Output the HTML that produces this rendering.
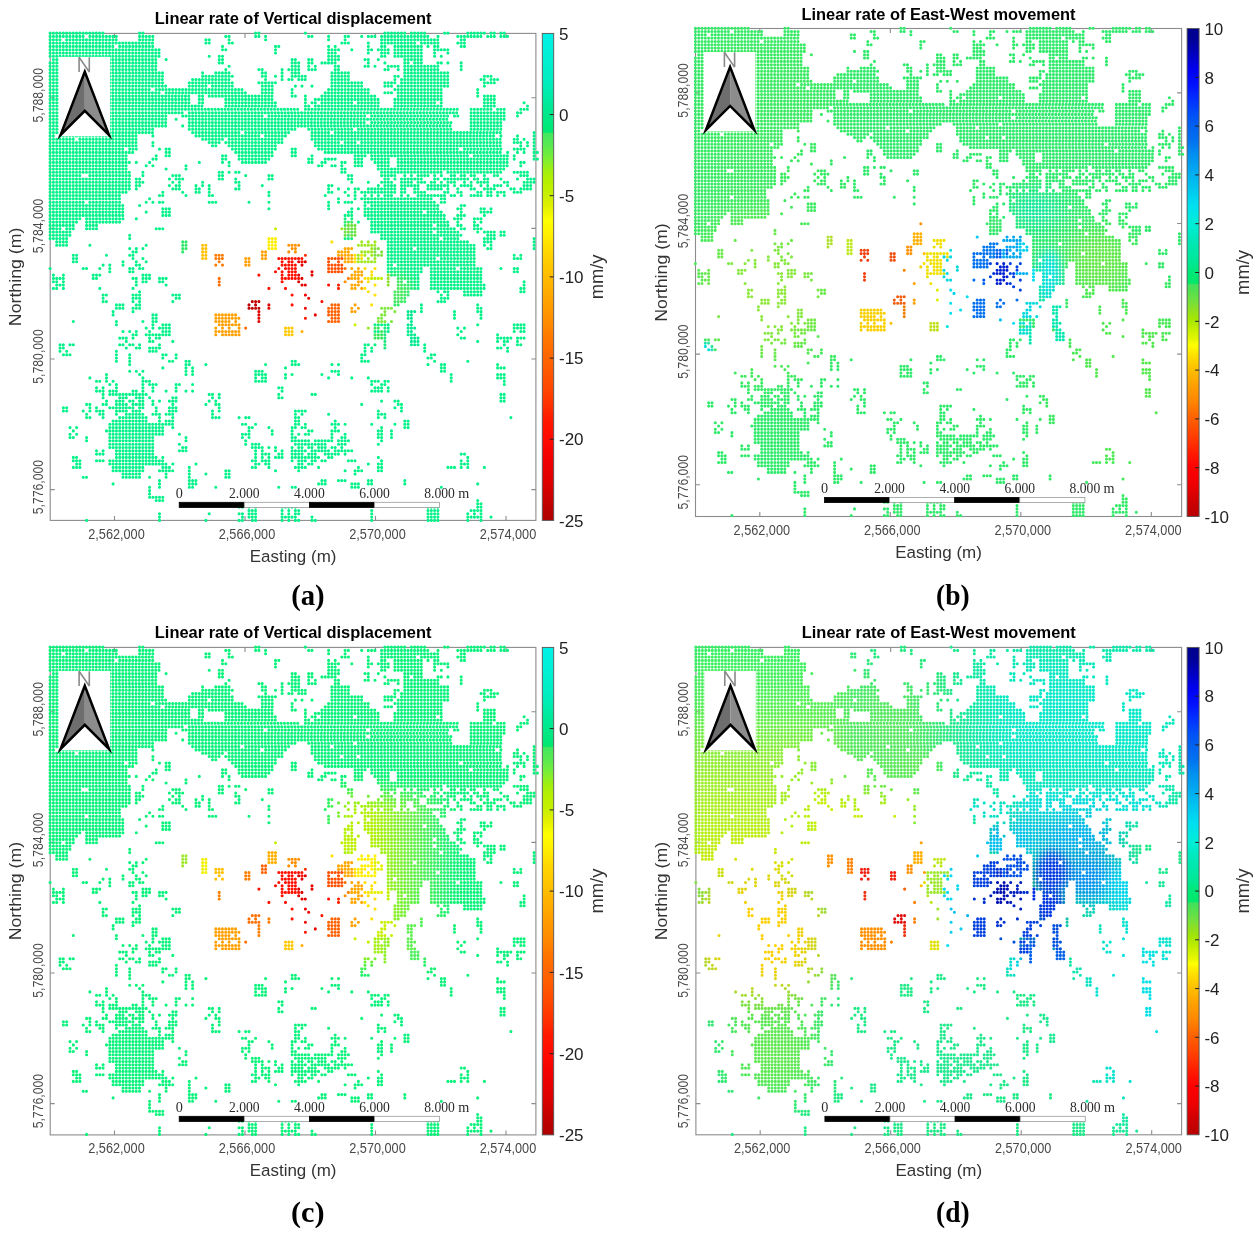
<!DOCTYPE html><html><head><meta charset="utf-8"><style>html,body{margin:0;padding:0;background:#fff;width:1258px;height:1235px;overflow:hidden}svg{display:block;will-change:transform}</style></head><body>
<svg width="1258" height="1235" viewBox="0 0 1258 1235">
<defs>
<linearGradient id="cbA" x1="0" y1="0" x2="0" y2="1"><stop offset="0" stop-color="#00f2e8"/><stop offset="0.097" stop-color="#00eec0"/><stop offset="0.166" stop-color="#00e88a"/><stop offset="0.203" stop-color="#00e870"/><stop offset="0.205" stop-color="#40e860"/><stop offset="0.23" stop-color="#58ea50"/><stop offset="0.255" stop-color="#78ee38"/><stop offset="0.281" stop-color="#a0f010"/><stop offset="0.306" stop-color="#b8f000"/><stop offset="0.333" stop-color="#c8f000"/><stop offset="0.353" stop-color="#e0f000"/><stop offset="0.384" stop-color="#ffff00"/><stop offset="0.415" stop-color="#ffee00"/><stop offset="0.446" stop-color="#ffd800"/><stop offset="0.476" stop-color="#ffc800"/><stop offset="0.507" stop-color="#ffb800"/><stop offset="0.538" stop-color="#ffa800"/><stop offset="0.569" stop-color="#ff9800"/><stop offset="0.6" stop-color="#ff8800"/><stop offset="0.631" stop-color="#ff7400"/><stop offset="0.668" stop-color="#ff6400"/><stop offset="0.703" stop-color="#ff5400"/><stop offset="0.734" stop-color="#ff4400"/><stop offset="0.765" stop-color="#ff3000"/><stop offset="0.795" stop-color="#ff1800"/><stop offset="0.836" stop-color="#ff0800"/><stop offset="0.877" stop-color="#f00000"/><stop offset="0.918" stop-color="#e00000"/><stop offset="0.949" stop-color="#cc0000"/><stop offset="0.98" stop-color="#b80000"/><stop offset="1" stop-color="#b00000"/></linearGradient>
<linearGradient id="cbB" x1="0" y1="0" x2="0" y2="1"><stop offset="0" stop-color="#00008c"/><stop offset="0.023" stop-color="#000098"/><stop offset="0.053" stop-color="#0000c0"/><stop offset="0.084" stop-color="#0000f0"/><stop offset="0.115" stop-color="#0010ff"/><stop offset="0.146" stop-color="#0030ff"/><stop offset="0.177" stop-color="#0050f8"/><stop offset="0.199" stop-color="#0060f0"/><stop offset="0.228" stop-color="#0070f0"/><stop offset="0.259" stop-color="#0090f0"/><stop offset="0.29" stop-color="#00a8f0"/><stop offset="0.331" stop-color="#00c8f0"/><stop offset="0.362" stop-color="#00e0f0"/><stop offset="0.399" stop-color="#00eed8"/><stop offset="0.434" stop-color="#00e8b8"/><stop offset="0.475" stop-color="#00e898"/><stop offset="0.499" stop-color="#00e878"/><stop offset="0.522" stop-color="#00e868"/><stop offset="0.524" stop-color="#40e060"/><stop offset="0.536" stop-color="#50e050"/><stop offset="0.557" stop-color="#70e040"/><stop offset="0.577" stop-color="#90e020"/><stop offset="0.598" stop-color="#a8e800"/><stop offset="0.618" stop-color="#c8f000"/><stop offset="0.639" stop-color="#e8f800"/><stop offset="0.649" stop-color="#ffff00"/><stop offset="0.67" stop-color="#ffe000"/><stop offset="0.69" stop-color="#ffc800"/><stop offset="0.731" stop-color="#ffa000"/><stop offset="0.762" stop-color="#ff8800"/><stop offset="0.799" stop-color="#ff6000"/><stop offset="0.834" stop-color="#ff4000"/><stop offset="0.865" stop-color="#ff2000"/><stop offset="0.899" stop-color="#ff0000"/><stop offset="0.936" stop-color="#ee0000"/><stop offset="0.967" stop-color="#d00000"/><stop offset="1" stop-color="#b80000"/></linearGradient>
<filter id="bl1" x="-50%" y="-50%" width="200%" height="200%"><feGaussianBlur stdDeviation="1"/></filter>
<filter id="bl2" x="-50%" y="-50%" width="200%" height="200%"><feGaussianBlur stdDeviation="2"/></filter>
<filter id="bl3" x="-50%" y="-50%" width="200%" height="200%"><feGaussianBlur stdDeviation="3"/></filter>
<filter id="bl4" x="-50%" y="-50%" width="200%" height="200%"><feGaussianBlur stdDeviation="4"/></filter>
<filter id="bl5" x="-50%" y="-50%" width="200%" height="200%"><feGaussianBlur stdDeviation="5"/></filter>
<filter id="bl6" x="-50%" y="-50%" width="200%" height="200%"><feGaussianBlur stdDeviation="6"/></filter>
<filter id="bl7" x="-50%" y="-50%" width="200%" height="200%"><feGaussianBlur stdDeviation="7"/></filter>
<filter id="bl8" x="-50%" y="-50%" width="200%" height="200%"><feGaussianBlur stdDeviation="8"/></filter>
<filter id="bl9" x="-50%" y="-50%" width="200%" height="200%"><feGaussianBlur stdDeviation="9"/></filter>
<filter id="bl10" x="-50%" y="-50%" width="200%" height="200%"><feGaussianBlur stdDeviation="10"/></filter>
<filter id="bl11" x="-50%" y="-50%" width="200%" height="200%"><feGaussianBlur stdDeviation="11"/></filter>
<filter id="bl12" x="-50%" y="-50%" width="200%" height="200%"><feGaussianBlur stdDeviation="12"/></filter>
<filter id="bl13" x="-50%" y="-50%" width="200%" height="200%"><feGaussianBlur stdDeviation="13"/></filter>
<filter id="bl14" x="-50%" y="-50%" width="200%" height="200%"><feGaussianBlur stdDeviation="14"/></filter>
<filter id="bl15" x="-50%" y="-50%" width="200%" height="200%"><feGaussianBlur stdDeviation="15"/></filter>
<filter id="bl16" x="-50%" y="-50%" width="200%" height="200%"><feGaussianBlur stdDeviation="16"/></filter>
<filter id="bl17" x="-50%" y="-50%" width="200%" height="200%"><feGaussianBlur stdDeviation="17"/></filter>
<filter id="bl18" x="-50%" y="-50%" width="200%" height="200%"><feGaussianBlur stdDeviation="18"/></filter>
<filter id="bl19" x="-50%" y="-50%" width="200%" height="200%"><feGaussianBlur stdDeviation="19"/></filter>
<filter id="bl20" x="-50%" y="-50%" width="200%" height="200%"><feGaussianBlur stdDeviation="20"/></filter>
<filter id="bl21" x="-50%" y="-50%" width="200%" height="200%"><feGaussianBlur stdDeviation="21"/></filter>
<filter id="bl22" x="-50%" y="-50%" width="200%" height="200%"><feGaussianBlur stdDeviation="22"/></filter>
<filter id="bl23" x="-50%" y="-50%" width="200%" height="200%"><feGaussianBlur stdDeviation="23"/></filter>
<filter id="bl24" x="-50%" y="-50%" width="200%" height="200%"><feGaussianBlur stdDeviation="24"/></filter>
<filter id="bl25" x="-50%" y="-50%" width="200%" height="200%"><feGaussianBlur stdDeviation="25"/></filter>
<filter id="bl26" x="-50%" y="-50%" width="200%" height="200%"><feGaussianBlur stdDeviation="26"/></filter>
<filter id="bl27" x="-50%" y="-50%" width="200%" height="200%"><feGaussianBlur stdDeviation="27"/></filter>
<filter id="bl28" x="-50%" y="-50%" width="200%" height="200%"><feGaussianBlur stdDeviation="28"/></filter>
<filter id="bl29" x="-50%" y="-50%" width="200%" height="200%"><feGaussianBlur stdDeviation="29"/></filter>
<filter id="bl30" x="-50%" y="-50%" width="200%" height="200%"><feGaussianBlur stdDeviation="30"/></filter>
<g id="pts"><path d="M-1.4 -0.3H54.2M88.1 -0.3H94M204.1 -0.3H210M253.9 -0.3H256.5M333.4 -0.3H355.9M359.9 -0.3H375.8M393.1 -0.3H399M416.3 -0.3H435.5M439.5 -0.3H445.4M449.4 -0.3H455.4M-1.4 3H34.3M38.4 3H67.5M88.1 3H104M174.3 3H180.2M204.1 3H210M214.1 3H216.7M257.2 3H263.1M277.1 3H279.7M293.6 3H299.6M310.2 3H312.8M316.8 3H326.1M330.1 3H379.1M386.5 3H389.1M406.3 3H432.1M436.2 3H445.4M449.4 3H458.7M-1.4 6.3H11.1M15.2 6.3H67.5M88.1 6.3H104M154.4 6.3H160.3M177.6 6.3H180.2M214.1 6.3H216.7M277.1 6.3H279.7M293.6 6.3H296.2M330.1 6.3H389.1M409.7 6.3H415.6M-1.4 9.6H104M154.4 9.6H160.3M177.6 9.6H183.5M290.3 9.6H299.6M316.8 9.6H319.4M330.1 9.6H365.8M369.9 9.6H389.1M406.3 9.6H415.6M-1.4 13H64.2M68.2 13H104M171 13H173.6M224 13H229.9M277.1 13H279.7M283.7 13H286.3M316.8 13H319.4M330.1 13H336M343.4 13H372.5M376.5 13H379.1M383.1 13H389.1M409.7 13H415.6M-1.4 16.3H110.6M171 16.3H176.9M224 16.3H226.6M277.1 16.3H289.6M300.3 16.3H302.9M316.8 16.3H322.8M326.8 16.3H339.3M343.4 16.3H372.5M383.1 16.3H399M-1.4 19.6H110.6M224 19.6H226.6M277.1 19.6H286.3M316.8 19.6H319.4M330.1 19.6H339.3M343.4 19.6H372.5M383.1 19.6H385.7M396.4 19.6H399M-1.4 22.9H110.6M157.7 22.9H160.3M167.7 22.9H173.6M277.1 22.9H289.6M330.1 22.9H336M343.4 22.9H372.5M383.1 22.9H385.7M389.8 22.9H392.4M1.9 26.2H107.3M114.6 26.2H117.2M167.7 26.2H173.6M240.6 26.2H246.5M257.2 26.2H263.1M277.1 26.2H289.6M313.5 26.2H319.4M326.8 26.2H329.4M353.3 26.2H372.5M-1.4 29.5H21.1M25.1 29.5H107.3M167.7 29.5H173.6M240.6 29.5H249.8M257.2 29.5H263.1M270.4 29.5H286.3M316.8 29.5H319.4M333.4 29.5H336M353.3 29.5H359.2M363.2 29.5H372.5M386.5 29.5H392.4M396.4 29.5H399M409.7 29.5H412.3M-1.4 32.9H107.3M177.6 32.9H180.2M240.6 32.9H249.8M257.2 32.9H259.8M263.8 32.9H266.4M283.7 32.9H289.6M313.5 32.9H319.4M323.5 32.9H326.1M336.7 32.9H349.3M353.3 32.9H389.1M409.7 32.9H412.3M-1.4 36.2H107.3M174.3 36.2H176.9M207.4 36.2H213.4M230.6 36.2H233.2M237.3 36.2H249.8M257.2 36.2H266.4M283.7 36.2H289.6M333.4 36.2H339.3M346.7 36.2H349.3M353.3 36.2H389.1M409.7 36.2H412.3M-1.4 39.5H41M45 39.5H113.9M151.1 39.5H153.7M164.3 39.5H180.2M210.8 39.5H216.7M230.6 39.5H233.2M240.6 39.5H249.8M280.4 39.5H299.6M353.3 39.5H399M-1.4 42.8H44.3M48.3 42.8H113.9M151.1 42.8H183.5M210.8 42.8H216.7M224 42.8H226.6M230.6 42.8H233.2M240.6 42.8H256.5M280.4 42.8H299.6M343.4 42.8H349.3M353.3 42.8H399M432.9 42.8H442.1M-1.4 46.1H113.9M141.1 46.1H180.2M214.1 46.1H216.7M230.6 46.1H233.2M237.3 46.1H243.2M247.2 46.1H256.5M280.4 46.1H299.6M343.4 46.1H346M350 46.1H399M429.5 46.1H435.5M439.5 46.1H448.7M-1.4 49.4H44.3M48.3 49.4H113.9M137.8 49.4H183.5M207.4 49.4H226.6M280.4 49.4H312.8M333.4 49.4H346M350 49.4H399M432.9 49.4H445.4M-1.4 52.7H117.2M137.8 52.7H157M161 52.7H183.5M210.8 52.7H223.3M243.9 52.7H246.5M250.5 52.7H253.1M260.5 52.7H263.1M280.4 52.7H312.8M333.4 52.7H342.6M346.7 52.7H399M432.9 52.7H435.5M-1.4 56.1H100.7M104.7 56.1H193.5M210.8 56.1H223.3M240.6 56.1H243.2M277.1 56.1H319.4M343.4 56.1H392.4M426.2 56.1H428.8M-1.4 59.4H110.6M114.6 59.4H196.8M210.8 59.4H223.3M240.6 59.4H243.2M273.7 59.4H319.4M333.4 59.4H342.6M346.7 59.4H392.4M426.2 59.4H428.8M-1.4 62.7H140.4M147.8 62.7H153.7M157.7 62.7H223.3M240.6 62.7H246.5M253.9 62.7H256.5M270.4 62.7H326.1M346.7 62.7H392.4M426.2 62.7H428.8M432.9 62.7H445.4M-1.4 66H14.5M18.5 66H140.4M147.8 66H153.7M174.3 66H223.3M253.9 66H256.5M263.8 66H329.4M343.4 66H392.4M432.9 66H445.4M-1.4 69.3H41M45 69.3H140.4M147.8 69.3H153.7M174.3 69.3H226.6M253.9 69.3H256.5M260.5 69.3H266.4M270.4 69.3H302.9M306.9 69.3H329.4M343.4 69.3H385.7M389.8 69.3H392.4M432.9 69.3H445.4M472.6 69.3H475.2M-1.4 72.6H153.7M174.3 72.6H226.6M253.9 72.6H259.8M263.8 72.6H329.4M343.4 72.6H392.4M432.9 72.6H445.4M476 72.6H478.6M-1.4 75.9H249.8M253.9 75.9H408.9M419.6 75.9H442.1M446.1 75.9H455.4M469.3 75.9H478.6M-1.4 79.3H133.8M137.8 79.3H408.9M419.6 79.3H455.4M466 79.3H471.9M-1.4 82.6H41M45 82.6H117.2M131.2 82.6H213.4M217.4 82.6H316.1M320.2 82.6H399M403 82.6H408.9M419.6 82.6H455.4M466 82.6H468.6M-1.4 85.9H117.2M124.6 85.9H127.2M137.8 85.9H399M419.6 85.9H455.4M-1.4 89.2H117.2M137.8 89.2H316.1M320.2 89.2H402.3M419.6 89.2H452M-1.4 92.5H117.2M131.2 92.5H133.8M137.8 92.5H402.3M419.6 92.5H452M-1.4 95.8H34.3M38.4 95.8H104M137.8 95.8H246.5M257.2 95.8H302.9M306.9 95.8H402.3M419.6 95.8H452M-1.4 99.2H104M141.1 99.2H190.2M194.2 99.2H239.9M260.5 99.2H279.7M283.7 99.2H452M482.6 99.2H485.2M-1.4 102.5H4.5M8.5 102.5H87.4M101.4 102.5H104M144.5 102.5H210M214.1 102.5H236.6M260.5 102.5H445.4M449.4 102.5H452M466 102.5H468.6M482.6 102.5H485.2M-1.4 105.8H24.4M28.4 105.8H87.4M151.1 105.8H173.6M177.6 105.8H233.2M260.5 105.8H452M462.7 105.8H468.6M472.6 105.8H475.2M482.6 105.8H485.2M-1.4 109.1H87.4M101.4 109.1H104M157.7 109.1H170.3M174.3 109.1H233.2M263.8 109.1H289.6M293.6 109.1H306.2M310.2 109.1H452M462.7 109.1H471.9M476 109.1H478.6M482.6 109.1H485.2M-1.4 112.4H87.4M101.4 112.4H104M161 112.4H167M177.6 112.4H226.6M263.8 112.4H452M469.3 112.4H471.9M476 112.4H478.6M482.6 112.4H485.2M-1.4 115.7H74.1M78.2 115.7H87.4M108 115.7H110.6M114.6 115.7H120.5M180.9 115.7H226.6M240.6 115.7H246.5M267.1 115.7H408.9M413 115.7H452M462.7 115.7H475.2M482.6 115.7H485.2M-1.4 119H84.1M114.6 119H120.5M184.2 119H223.3M240.6 119H246.5M273.7 119H452M456.1 119H458.7M466 119H468.6M472.6 119H475.2M482.6 119H488.5M-1.4 122.4H77.4M104.7 122.4H107.3M114.6 122.4H120.5M171 122.4H176.9M187.6 122.4H223.3M240.6 122.4H246.5M260.5 122.4H263.1M303.6 122.4H316.1M320.2 122.4H418.9M422.9 122.4H458.7M462.7 122.4H465.3M482.6 122.4H485.2M-1.4 125.7H77.4M101.4 125.7H107.3M171 125.7H176.9M187.6 125.7H220M257.2 125.7H263.1M273.7 125.7H286.3M303.6 125.7H312.8M320.2 125.7H339.3M346.7 125.7H458.7M462.7 125.7H465.3M482.6 125.7H488.5M-1.4 129H80.8M84.8 129H87.4M98.1 129H100.7M147.8 129H150.4M171 129H173.6M177.6 129H180.2M190.9 129H216.7M257.2 129H263.1M270.4 129H276.3M290.3 129H296.2M303.6 129H312.8M323.5 129H339.3M346.7 129H458.7M469.3 129H475.2M-1.4 132.3H77.4M94.7 132.3H97.3M101.4 132.3H104M134.5 132.3H137.1M177.6 132.3H180.2M267.1 132.3H273M280.4 132.3H286.3M290.3 132.3H292.9M303.6 132.3H312.8M326.8 132.3H339.3M346.7 132.3H458.7M469.3 132.3H471.9M-1.4 135.6H77.4M114.6 135.6H117.2M134.5 135.6H137.1M290.3 135.6H296.2M326.8 135.6H455.4M-1.4 138.9H80.8M91.4 138.9H94M167.7 138.9H173.6M177.6 138.9H180.2M184.2 138.9H190.2M290.3 138.9H296.2M330.1 138.9H392.4M396.4 138.9H452M462.7 138.9H478.6M-1.4 142.2H31M38.4 142.2H80.8M91.4 142.2H94M121.3 142.2H130.5M167.7 142.2H173.6M194.2 142.2H196.8M217.4 142.2H223.3M296.9 142.2H302.9M330.1 142.2H346M353.3 142.2H355.9M359.9 142.2H362.5M366.6 142.2H379.1M383.1 142.2H385.7M389.8 142.2H392.4M399.7 142.2H405.6M409.7 142.2H415.6M419.6 142.2H425.5M432.9 142.2H435.5M442.8 142.2H448.7M469.3 142.2H478.6M-1.4 145.6H80.8M84.8 145.6H90.7M117.9 145.6H120.5M124.6 145.6H133.8M167.7 145.6H173.6M184.2 145.6H186.8M217.4 145.6H223.3M296.9 145.6H302.9M333.4 145.6H339.3M343.4 145.6H346M350 145.6H372.5M383.1 145.6H389.1M393.1 145.6H418.9M422.9 145.6H428.8M432.9 145.6H438.8M449.4 145.6H452M466 145.6H468.6M476 145.6H485.2M-1.4 148.9H80.8M84.8 148.9H94M121.3 148.9H123.9M127.9 148.9H130.5M151.1 148.9H153.7M184.2 148.9H190.2M300.3 148.9H302.9M316.8 148.9H319.4M330.1 148.9H342.6M350 148.9H362.5M366.6 148.9H375.8M379.8 148.9H385.7M389.8 148.9H392.4M396.4 148.9H405.6M413 148.9H415.6M419.6 148.9H422.2M426.2 148.9H438.8M452.8 148.9H458.7M472.6 148.9H485.2M-1.4 152.2H80.8M84.8 152.2H90.7M117.9 152.2H120.5M124.6 152.2H130.5M144.5 152.2H147.1M151.1 152.2H153.7M157.7 152.2H160.3M187.6 152.2H190.2M210.8 152.2H213.4M277.1 152.2H283M326.8 152.2H329.4M333.4 152.2H346M350 152.2H369.2M376.5 152.2H399M403 152.2H405.6M409.7 152.2H422.2M429.5 152.2H432.1M436.2 152.2H438.8M442.8 152.2H452M456.1 152.2H458.7M472.6 152.2H481.9M-1.4 155.5H80.8M84.8 155.5H87.4M121.3 155.5H130.5M144.5 155.5H150.4M157.7 155.5H160.3M184.2 155.5H190.2M277.1 155.5H279.7M287 155.5H289.6M296.9 155.5H299.6M303.6 155.5H309.5M316.8 155.5H346M350 155.5H355.9M363.2 155.5H369.2M376.5 155.5H392.4M396.4 155.5H399M406.3 155.5H408.9M419.6 155.5H425.5M432.9 155.5H445.4M459.4 155.5H465.3M469.3 155.5H481.9M-1.4 158.8H77.4M111.3 158.8H113.9M131.2 158.8H133.8M144.5 158.8H150.4M157.7 158.8H160.3M217.4 158.8H220M277.1 158.8H283M293.6 158.8H296.2M303.6 158.8H306.2M310.2 158.8H346M350 158.8H355.9M363.2 158.8H375.8M393.1 158.8H399M406.3 158.8H412.3M426.2 158.8H432.1M436.2 158.8H442.1M446.1 158.8H455.4M462.7 158.8H471.9M-1.4 162.1H70.8M108 162.1H113.9M134.5 162.1H137.1M157.7 162.1H163.6M217.4 162.1H220M273.7 162.1H276.3M296.9 162.1H299.6M303.6 162.1H306.2M313.5 162.1H316.1M320.2 162.1H322.8M326.8 162.1H329.4M333.4 162.1H342.6M350 162.1H352.6M356.6 162.1H359.2M366.6 162.1H395.7M399.7 162.1H405.6M409.7 162.1H412.3M419.6 162.1H432.1M436.2 162.1H442.1M446.1 162.1H448.7M452.8 162.1H455.4M-1.4 165.4H70.8M98.1 165.4H100.7M287 165.4H289.6M303.6 165.4H306.2M310.2 165.4H382.4M389.8 165.4H395.7M-1.4 168.8H34.3M38.4 168.8H70.8M94.7 168.8H97.3M101.4 168.8H104M108 168.8H113.9M157.7 168.8H167M197.5 168.8H200.1M217.4 168.8H220M277.1 168.8H279.7M287 168.8H289.6M293.6 168.8H302.9M313.5 168.8H385.7M389.8 168.8H395.7M-1.4 172.1H74.1M88.1 172.1H90.7M277.1 172.1H279.7M313.5 172.1H316.1M320.2 172.1H389.1M409.7 172.1H415.6M-1.4 175.4H74.1M111.3 175.4H120.5M217.4 175.4H220M277.1 175.4H279.7M300.3 175.4H302.9M306.9 175.4H309.5M313.5 175.4H389.1M406.3 175.4H412.3M429.5 175.4H435.5M439.5 175.4H442.1M-1.4 178.7H74.1M94.7 178.7H97.3M111.3 178.7H120.5M296.9 178.7H302.9M313.5 178.7H372.5M376.5 178.7H392.4M409.7 178.7H412.3M429.5 178.7H442.1M-1.4 182H74.1M111.3 182H120.5M293.6 182H302.9M313.5 182H395.7M406.3 182H415.6M432.9 182H435.5M-1.4 185.3H31M35.1 185.3H74.1M84.8 185.3H87.4M293.6 185.3H296.2M300.3 185.3H302.9M316.8 185.3H395.7M403 185.3H412.3M422.9 185.3H432.1M-1.4 188.7H27.7M35.1 188.7H70.8M293.6 188.7H302.9M306.9 188.7H309.5M320.2 188.7H399M406.3 188.7H408.9M422.9 188.7H425.5M429.5 188.7H432.1M-1.4 192H24.4M35.1 192H47.6M293.6 192H306.2M320.2 192H382.4M386.5 192H399M406.3 192H412.3M422.9 192H428.8M-1.4 195.3H11.1M15.2 195.3H24.4M35.1 195.3H47.6M104.7 195.3H113.9M224 195.3H226.6M290.3 195.3H306.2M320.2 195.3H405.6M409.7 195.3H415.6M422.9 195.3H432.1M-1.4 198.6H21.1M293.6 198.6H306.2M320.2 198.6H382.4M386.5 198.6H408.9M426.2 198.6H428.8M432.9 198.6H445.4M449.4 198.6H455.4M-1.4 201.9H21.1M78.2 201.9H80.8M293.6 201.9H306.2M330.1 201.9H412.3M436.2 201.9H445.4M449.4 201.9H455.4M-1.4 205.2H17.8M78.2 205.2H80.8M217.4 205.2H226.6M293.6 205.2H302.9M330.1 205.2H389.1M393.1 205.2H408.9M432.9 205.2H445.4M482.6 205.2H485.2M5.2 208.5H17.8M131.2 208.5H137.1M217.4 208.5H226.6M280.4 208.5H283M310.2 208.5H312.8M316.8 208.5H319.4M323.5 208.5H326.1M336.7 208.5H418.9M432.9 208.5H442.1M482.6 208.5H485.2M5.2 211.9H17.8M38.4 211.9H41M94.7 211.9H97.3M131.2 211.9H137.1M151.1 211.9H157M217.4 211.9H226.6M237.3 211.9H249.8M306.9 211.9H326.1M336.7 211.9H425.5M432.9 211.9H435.5M439.5 211.9H442.1M482.6 211.9H485.2M78.2 215.2H80.8M84.8 215.2H87.4M91.4 215.2H94M131.2 215.2H137.1M151.1 215.2H157M217.4 215.2H226.6M240.6 215.2H246.5M293.6 215.2H302.9M320.2 215.2H329.4M336.7 215.2H362.5M366.6 215.2H425.5M436.2 215.2H442.1M482.6 215.2H485.2M81.5 218.5H87.4M131.2 218.5H133.8M151.1 218.5H157M210.8 218.5H216.7M237.3 218.5H239.9M243.9 218.5H246.5M287 218.5H299.6M310.2 218.5H326.1M330.1 218.5H332.7M336.7 218.5H425.5M21.8 221.8H27.7M55 221.8H57.6M78.2 221.8H84.1M151.1 221.8H157M164.3 221.8H173.6M210.8 221.8H216.7M253.9 221.8H256.5M287 221.8H316.1M320.2 221.8H332.7M336.7 221.8H425.5M462.7 221.8H465.3M469.3 221.8H471.9M21.8 225.1H27.7M81.5 225.1H84.1M91.4 225.1H94M151.1 225.1H157M164.3 225.1H173.6M194.2 225.1H200.1M210.8 225.1H216.7M227.3 225.1H253.1M277.1 225.1H312.8M316.8 225.1H319.4M323.5 225.1H326.1M336.7 225.1H385.7M389.8 225.1H425.5M462.7 225.1H471.9M21.8 228.4H27.7M71.5 228.4H74.1M84.8 228.4H87.4M94.7 228.4H97.3M167.7 228.4H170.3M194.2 228.4H200.1M230.6 228.4H233.2M237.3 228.4H243.2M247.2 228.4H256.5M277.1 228.4H279.7M287 228.4H289.6M293.6 228.4H326.1M336.7 228.4H425.5M51.6 231.7H54.2M58.3 231.7H60.9M71.5 231.7H74.1M84.8 231.7H90.7M164.3 231.7H167M171 231.7H173.6M194.2 231.7H200.1M230.6 231.7H246.5M250.5 231.7H253.1M277.1 231.7H292.9M336.7 231.7H342.6M346.7 231.7H425.5M-1.4 235.1H1.2M31.7 235.1H37.7M48.3 235.1H50.9M58.3 235.1H60.9M78.2 235.1H84.1M88.1 235.1H94M227.3 235.1H229.9M234 235.1H246.5M277.1 235.1H296.2M300.3 235.1H302.9M306.9 235.1H309.5M313.5 235.1H316.1M323.5 235.1H326.1M336.7 235.1H372.5M379.8 235.1H405.6M409.7 235.1H432.1M449.4 235.1H452M462.7 235.1H468.6M58.3 238.4H60.9M78.2 238.4H84.1M224 238.4H226.6M230.6 238.4H233.2M237.3 238.4H246.5M260.5 238.4H263.1M277.1 238.4H292.9M303.6 238.4H312.8M320.2 238.4H322.8M336.7 238.4H372.5M379.8 238.4H432.1M462.7 238.4H468.6M1.9 241.7H4.5M11.9 241.7H14.5M41.7 241.7H50.9M91.4 241.7H100.7M207.4 241.7H210M230.6 241.7H233.2M237.3 241.7H249.8M260.5 241.7H263.1M300.3 241.7H312.8M320.2 241.7H322.8M336.7 241.7H369.2M379.8 241.7H432.1M1.9 245H14.5M41.7 245H47.6M81.5 245H87.4M91.4 245H100.7M108 245H117.2M167.7 245H170.3M230.6 245H253.1M296.9 245H309.5M313.5 245H332.7M336.7 245H339.3M346.7 245H369.2M379.8 245H432.1M1.9 248.3H7.8M11.9 248.3H14.5M84.8 248.3H87.4M91.4 248.3H97.3M108 248.3H113.9M167.7 248.3H170.3M230.6 248.3H233.2M247.2 248.3H249.8M293.6 248.3H296.2M306.9 248.3H312.8M316.8 248.3H319.4M336.7 248.3H339.3M346.7 248.3H352.6M356.6 248.3H369.2M379.8 248.3H432.1M472.6 248.3H475.2M5.2 251.6H14.5M84.8 251.6H87.4M114.6 251.6H117.2M167.7 251.6H170.3M250.5 251.6H256.5M277.1 251.6H279.7M287 251.6H289.6M300.3 251.6H309.5M323.5 251.6H326.1M336.7 251.6H339.3M346.7 251.6H369.2M379.8 251.6H435.5M472.6 251.6H475.2M1.9 255H7.8M11.9 255H14.5M48.3 255H50.9M81.5 255H84.1M217.4 255H220M234 255H236.6M287 255H289.6M300.3 255H306.2M310.2 255H316.1M346.7 255H369.2M379.8 255H435.5M469.3 255H475.2M88.1 258.3H90.7M316.8 258.3H319.4M343.4 258.3H359.2M386.5 258.3H389.1M393.1 258.3H399M413 258.3H432.1M469.3 258.3H475.2M51.6 261.6H57.6M81.5 261.6H90.7M121.3 261.6H130.5M240.6 261.6H243.2M253.9 261.6H256.5M323.5 261.6H326.1M343.4 261.6H359.2M389.8 261.6H392.4M396.4 261.6H399M413 261.6H432.1M51.6 264.9H54.2M81.5 264.9H90.7M124.6 264.9H130.5M257.2 264.9H259.8M343.4 264.9H355.9M389.8 264.9H399M51.6 268.2H57.6M81.5 268.2H84.1M88.1 268.2H90.7M121.3 268.2H123.9M200.8 268.2H210M270.4 268.2H273M343.4 268.2H355.9M386.5 268.2H395.7M64.9 271.5H74.1M84.8 271.5H90.7M197.5 271.5H200.1M204.1 271.5H206.7M217.4 271.5H220M240.6 271.5H243.2M280.4 271.5H289.6M303.6 271.5H306.2M320.2 271.5H322.8M343.4 271.5H349.3M369.9 271.5H372.5M426.2 271.5H428.8M64.9 274.8H74.1M81.5 274.8H90.7M197.5 274.8H210M217.4 274.8H220M253.9 274.8H256.5M277.1 274.8H289.6M300.3 274.8H302.9M306.9 274.8H309.5M330.1 274.8H342.6M369.9 274.8H372.5M426.2 274.8H432.1M61.6 278.2H64.2M81.5 278.2H84.1M207.4 278.2H210M277.1 278.2H289.6M300.3 278.2H306.2M333.4 278.2H336M343.4 278.2H346M356.6 278.2H365.8M369.9 278.2H372.5M403 278.2H405.6M426.2 278.2H432.1M61.6 281.5H64.2M101.4 281.5H107.3M164.3 281.5H186.8M207.4 281.5H210M263.8 281.5H266.4M277.1 281.5H289.6M330.1 281.5H336M356.6 281.5H362.5M403 281.5H405.6M429.5 281.5H432.1M101.4 284.8H107.3M164.3 284.8H190.2M207.4 284.8H210M253.9 284.8H256.5M280.4 284.8H289.6M326.8 284.8H332.7M356.6 284.8H362.5M403 284.8H405.6M429.5 284.8H432.1M21.8 288.1H24.4M64.9 288.1H67.5M91.4 288.1H94M101.4 288.1H107.3M164.3 288.1H180.2M184.2 288.1H186.8M207.4 288.1H210M277.1 288.1H289.6M326.8 288.1H336M340 288.1H342.6M359.9 288.1H362.5M64.9 291.4H67.5M101.4 291.4H104M111.3 291.4H120.5M167.7 291.4H190.2M303.6 291.4H306.2M323.5 291.4H339.3M356.6 291.4H362.5M426.2 291.4H428.8M462.7 291.4H475.2M94.7 294.7H97.3M101.4 294.7H104M108 294.7H120.5M164.3 294.7H167M171 294.7H173.6M177.6 294.7H180.2M187.6 294.7H190.2M194.2 294.7H196.8M234 294.7H243.2M316.8 294.7H319.4M323.5 294.7H329.4M333.4 294.7H339.3M356.6 294.7H365.8M406.3 294.7H408.9M413 294.7H415.6M462.7 294.7H475.2M71.5 298.1H74.1M78.2 298.1H80.8M84.8 298.1H87.4M98.1 298.1H100.7M111.3 298.1H120.5M164.3 298.1H190.2M234 298.1H243.2M250.5 298.1H253.1M323.5 298.1H339.3M356.6 298.1H362.5M409.7 298.1H412.3M462.7 298.1H465.3M469.3 298.1H475.2M81.5 301.4H87.4M94.7 301.4H120.5M164.3 301.4H167M171 301.4H190.2M234 301.4H243.2M323.5 301.4H336M356.6 301.4H365.8M406.3 301.4H408.9M446.1 301.4H448.7M68.2 304.7H77.4M81.5 304.7H84.1M98.1 304.7H100.7M104.7 304.7H110.6M323.5 304.7H336M359.9 304.7H369.2M409.7 304.7H415.6M446.1 304.7H462M466 304.7H475.2M74.8 308H77.4M98.1 308H104M121.3 308H123.9M333.4 308H336M359.9 308H369.2M426.2 308H428.8M446.1 308H448.7M452.8 308H458.7M466 308H468.6M8.5 311.3H14.5M18.5 311.3H24.4M68.2 311.3H74.1M78.2 311.3H84.1M88.1 311.3H90.7M108 311.3H110.6M313.5 311.3H319.4M323.5 311.3H326.1M333.4 311.3H336M359.9 311.3H369.2M373.2 311.3H375.8M452.8 311.3H455.4M466 311.3H471.9M8.5 314.6H14.5M74.8 314.6H77.4M84.8 314.6H90.7M98.1 314.6H110.6M313.5 314.6H316.1M320.2 314.6H322.8M333.4 314.6H336M373.2 314.6H375.8M446.1 314.6H452M456.1 314.6H458.7M8.5 317.9H11.1M15.2 317.9H17.8M64.9 317.9H67.5M98.1 317.9H107.3M313.5 317.9H316.1M320.2 317.9H322.8M373.2 317.9H375.8M456.1 317.9H458.7M11.9 321.3H21.1M64.9 321.3H67.5M78.2 321.3H80.8M111.3 321.3H117.2M124.6 321.3H127.2M310.2 321.3H316.1M379.8 321.3H385.7M64.9 324.6H67.5M78.2 324.6H80.8M111.3 324.6H113.9M124.6 324.6H127.2M310.2 324.6H312.8M376.5 324.6H382.4M64.9 327.9H67.5M78.2 327.9H80.8M117.9 327.9H123.9M134.5 327.9H140.4M240.6 327.9H246.5M310.2 327.9H319.4M383.1 327.9H385.7M416.3 327.9H418.9M78.2 331.2H80.8M134.5 331.2H140.4M154.4 331.2H157M214.1 331.2H216.7M240.6 331.2H249.8M280.4 331.2H283M287 331.2H289.6M376.5 331.2H379.1M389.8 331.2H395.7M446.1 331.2H448.7M111.3 334.5H113.9M134.5 334.5H137.1M141.1 334.5H143.7M234 334.5H236.6M389.8 334.5H395.7M446.1 334.5H455.4M78.2 337.8H80.8M84.8 337.8H87.4M91.4 337.8H94M134.5 337.8H137.1M141.1 337.8H143.7M204.1 337.8H213.4M280.4 337.8H289.6M389.8 337.8H395.7M55 341.1H57.6M88.1 341.1H90.7M134.5 341.1H137.1M141.1 341.1H143.7M204.1 341.1H216.7M234 341.1H236.6M240.6 341.1H243.2M270.4 341.1H273M287 341.1H289.6M399.7 341.1H402.3M446.1 341.1H455.4M38.4 344.5H41M55 344.5H57.6M91.4 344.5H94M204.1 344.5H206.7M210.8 344.5H216.7M234 344.5H236.6M277.1 344.5H279.7M300.3 344.5H302.9M316.8 344.5H319.4M399.7 344.5H402.3M446.1 344.5H455.4M45 347.8H50.9M55 347.8H57.6M61.6 347.8H64.2M91.4 347.8H100.7M204.1 347.8H216.7M320.2 347.8H329.4M333.4 347.8H339.3M399.7 347.8H402.3M452.8 347.8H455.4M58.3 351.1H60.9M64.9 351.1H67.5M91.4 351.1H94M98.1 351.1H107.3M124.6 351.1H130.5M141.1 351.1H143.7M320.2 351.1H322.8M330.1 351.1H336M452.8 351.1H455.4M45 354.4H47.6M51.6 354.4H54.2M64.9 354.4H67.5M91.4 354.4H94M101.4 354.4H104M124.6 354.4H127.2M227.3 354.4H233.2M323.5 354.4H332.7M336.7 354.4H339.3M45 357.7H54.2M58.3 357.7H67.5M81.5 357.7H87.4M91.4 357.7H94M101.4 357.7H104M114.6 357.7H117.2M124.6 357.7H127.2M134.5 357.7H137.1M141.1 357.7H143.7M230.6 357.7H233.2M320.2 357.7H332.7M336.7 357.7H339.3M51.6 361H54.2M58.3 361H97.3M157.7 361H163.6M167.7 361H170.3M227.3 361H229.9M260.5 361H266.4M449.4 361H455.4M51.6 364.3H54.2M68.2 364.3H77.4M84.8 364.3H94M98.1 364.3H100.7M121.3 364.3H127.2M161 364.3H163.6M167.7 364.3H170.3M227.3 364.3H233.2M449.4 364.3H455.4M55 367.7H57.6M64.9 367.7H74.1M78.2 367.7H84.1M88.1 367.7H94M101.4 367.7H104M108 367.7H110.6M117.9 367.7H127.2M157.7 367.7H160.3M164.3 367.7H167M330.1 367.7H332.7M343.4 367.7H349.3M449.4 367.7H455.4M35.1 371H41M51.6 371H57.6M64.9 371H77.4M81.5 371H94M101.4 371H104M121.3 371H123.9M154.4 371H157M164.3 371H170.3M310.2 371H312.8M346.7 371H352.6M11.9 374.3H17.8M38.4 374.3H41M45 374.3H47.6M58.3 374.3H84.1M88.1 374.3H94M104.7 374.3H107.3M117.9 374.3H127.2M167.7 374.3H170.3M343.4 374.3H346M350 374.3H352.6M11.9 377.6H17.8M31.7 377.6H34.3M38.4 377.6H41M45 377.6H54.2M64.9 377.6H77.4M81.5 377.6H90.7M104.7 377.6H107.3M117.9 377.6H127.2M161 377.6H163.6M167.7 377.6H170.3M243.9 377.6H256.5M326.8 377.6H329.4M350 377.6H352.6M35.1 380.9H37.7M48.3 380.9H54.2M64.9 380.9H67.5M74.8 380.9H94M101.4 380.9H110.6M114.6 380.9H123.9M161 380.9H163.6M243.9 380.9H246.5M250.5 380.9H253.1M277.1 380.9H279.7M326.8 380.9H336M35.1 384.2H41M51.6 384.2H54.2M68.2 384.2H97.3M108 384.2H110.6M121.3 384.2H123.9M161 384.2H170.3M187.6 384.2H190.2M194.2 384.2H200.1M243.9 384.2H249.8M326.8 384.2H329.4M333.4 384.2H336M459.4 384.2H462M61.6 387.6H97.3M108 387.6H110.6M114.6 387.6H123.9M243.9 387.6H249.8M283.7 387.6H286.3M353.3 387.6H359.2M58.3 390.9H123.9M190.9 390.9H196.8M204.1 390.9H206.7M243.9 390.9H249.8M253.9 390.9H256.5M280.4 390.9H289.6M293.6 390.9H296.2M320.2 390.9H322.8M343.4 390.9H346M353.3 390.9H359.2M18.5 394.2H21.1M25.1 394.2H27.7M58.3 394.2H113.9M121.3 394.2H123.9M197.5 394.2H203.4M217.4 394.2H220M240.6 394.2H246.5M250.5 394.2H256.5M283.7 394.2H286.3M330.1 394.2H332.7M353.3 394.2H359.2M21.8 397.5H24.4M55 397.5H113.9M197.5 397.5H200.1M220.7 397.5H223.3M240.6 397.5H243.2M257.2 397.5H263.1M280.4 397.5H289.6M326.8 397.5H332.7M340 397.5H342.6M18.5 400.8H21.1M25.1 400.8H27.7M58.3 400.8H113.9M127.9 400.8H130.5M190.9 400.8H200.1M220.7 400.8H223.3M240.6 400.8H243.2M247.2 400.8H249.8M253.9 400.8H259.8M280.4 400.8H283M293.6 400.8H296.2M326.8 400.8H332.7M340 400.8H342.6M18.5 404.1H24.4M35.1 404.1H37.7M58.3 404.1H104M134.5 404.1H137.1M190.9 404.1H193.5M197.5 404.1H200.1M240.6 404.1H246.5M280.4 404.1H283M290.3 404.1H296.2M326.8 404.1H332.7M340 404.1H342.6M35.1 407.4H37.7M58.3 407.4H104M134.5 407.4H137.1M194.2 407.4H196.8M240.6 407.4H259.8M263.8 407.4H283M287 407.4H299.6M330.1 407.4H332.7M58.3 410.8H104M127.9 410.8H130.5M194.2 410.8H196.8M200.8 410.8H210M243.9 410.8H276.3M287 410.8H296.2M326.8 410.8H329.4M58.3 414.1H104M131.2 414.1H137.1M200.8 414.1H213.4M217.4 414.1H220M224 414.1H226.6M240.6 414.1H243.2M247.2 414.1H253.1M257.2 414.1H263.1M267.1 414.1H276.3M280.4 414.1H286.3M290.3 414.1H292.9M45 417.4H47.6M51.6 417.4H54.2M64.9 417.4H104M127.9 417.4H137.1M204.1 417.4H206.7M210.8 417.4H213.4M224 417.4H226.6M230.6 417.4H233.2M240.6 417.4H256.5M260.5 417.4H279.7M283.7 417.4H302.9M45 420.7H54.2M64.9 420.7H104M204.1 420.7H206.7M210.8 420.7H220M227.3 420.7H233.2M240.6 420.7H253.1M257.2 420.7H266.4M273.7 420.7H289.6M293.6 420.7H296.2M409.7 420.7H415.6M21.8 424H27.7M64.9 424H107.3M111.3 424H113.9M204.1 424H206.7M210.8 424H213.4M217.4 424H220M224 424H233.2M240.6 424H269.7M277.1 424H283M326.8 424H329.4M416.3 424H418.9M21.8 427.3H31M45 427.3H54.2M58.3 427.3H113.9M200.8 427.3H206.7M210.8 427.3H220M240.6 427.3H243.2M247.2 427.3H256.5M260.5 427.3H266.4M270.4 427.3H276.3M296.9 427.3H306.2M330.1 427.3H332.7M409.7 427.3H412.3M416.3 427.3H418.9M25.1 430.6H31M58.3 430.6H117.2M121.3 430.6H123.9M144.5 430.6H147.1M204.1 430.6H210M214.1 430.6H220M247.2 430.6H253.1M257.2 430.6H263.1M316.8 430.6H319.4M326.8 430.6H332.7M409.7 430.6H418.9M21.8 434H31M61.6 434H94M111.3 434H120.5M137.8 434H140.4M200.8 434H206.7M217.4 434H220M243.9 434H256.5M267.1 434H269.7M306.9 434H309.5M326.8 434H332.7M396.4 434H405.6M409.7 434H412.3M416.3 434H418.9M432.9 434H435.5M61.6 437.3H94M108 437.3H123.9M137.8 437.3H140.4M174.3 437.3H180.2M224 437.3H226.6M247.2 437.3H249.8M293.6 437.3H296.2M303.6 437.3H312.8M326.8 437.3H332.7M71.5 440.6H90.7M114.6 440.6H117.2M137.8 440.6H140.4M154.4 440.6H157M174.3 440.6H180.2M303.6 440.6H306.2M31.7 443.9H37.7M71.5 443.9H90.7M98.1 443.9H100.7M114.6 443.9H117.2M137.8 443.9H140.4M174.3 443.9H180.2M108 447.2H110.6M137.8 447.2H147.1M270.4 447.2H276.3M287 447.2H296.2M316.8 447.2H322.8M353.3 447.2H355.9M61.6 450.5H64.2M108 450.5H110.6M137.8 450.5H147.1M267.1 450.5H276.3M300.3 450.5H309.5M316.8 450.5H322.8M353.3 450.5H355.9M426.2 450.5H428.8M98.1 453.9H100.7M108 453.9H110.6M137.8 453.9H143.7M164.3 453.9H167M227.3 453.9H229.9M240.6 453.9H246.5M300.3 453.9H309.5M389.8 453.9H392.4M98.1 457.2H100.7M98.1 460.5H100.7M98.1 463.8H113.9M104.7 467.1H113.9M426.2 467.1H428.8M426.2 470.4H432.1M187.6 473.7H193.5M197.5 473.7H200.1M204.1 473.7H206.7M230.6 473.7H246.5M376.5 473.7H389.1M426.2 473.7H432.1M197.5 477.1H206.7M230.6 477.1H233.2M237.3 477.1H239.9M243.9 477.1H249.8M320.2 477.1H322.8M376.5 477.1H389.1M419.6 477.1H432.1M108 480.4H110.6M157.7 480.4H160.3M187.6 480.4H193.5M197.5 480.4H206.7M230.6 480.4H233.2M237.3 480.4H239.9M243.9 480.4H249.8M320.2 480.4H322.8M376.5 480.4H389.1M416.3 480.4H418.9M422.9 480.4H425.5M429.5 480.4H432.1M108 483.7H110.6M190.9 483.7H193.5M197.5 483.7H206.7M230.6 483.7H246.5M260.5 483.7H263.1M320.2 483.7H322.8M376.5 483.7H389.1M416.3 483.7H432.1M439.5 483.7H442.1M35.1 487H37.7M108 487H110.6M154.4 487H157M187.6 487H193.5M200.8 487H206.7M230.6 487H233.2M237.3 487H239.9M243.9 487H249.8M260.5 487H266.4M320.2 487H322.8M376.5 487H389.1M416.3 487H418.9M429.5 487H432.1" stroke="#fff" stroke-width="3.1" stroke-linecap="round" stroke-dasharray="0.001 3.3" stroke-dashoffset="-1.3" fill="none"/></g>
<mask id="mk" maskUnits="userSpaceOnUse" x="-8" y="-8" width="505" height="505"><use href="#pts"/></mask>
</defs>
<g transform="translate(50.2,33.4)">
<rect x="0" y="0" width="485.7" height="487.0" fill="none" stroke="#8c8c8c" stroke-width="1.1"/>
<path d="M64.3 487.0v-4.5M64.3 0v4.5M0 64.4h4.5M485.7 64.4h-4.5M194.8 487.0v-4.5M194.8 0v4.5M0 195h4.5M485.7 195h-4.5M325.3 487.0v-4.5M325.3 0v4.5M0 325.6h4.5M485.7 325.6h-4.5M455.8 487.0v-4.5M455.8 0v4.5M0 456.2h4.5M485.7 456.2h-4.5" stroke="#8c8c8c" stroke-width="1.1" fill="none"/>
<g mask="url(#mk)"><rect x="-8" y="-8" width="505" height="505" fill="#00f288"/><ellipse cx="347.8" cy="258.6" rx="14" ry="18" fill="#50e860" filter="url(#bl6)"/><ellipse cx="298.8" cy="194.6" rx="5" ry="9" fill="#70e850" filter="url(#bl3)"/><path fill="#30e868" d="M130.5 206.5h4v4h-4zM130.5 209.9h4v4h-4zM130.5 213.2h4v4h-4zM130.5 216.5h4v4h-4zM133.8 206.5h4v4h-4zM133.8 209.9h4v4h-4zM133.8 213.2h4v4h-4z"/><path fill="#ffc000" d="M150.4 209.9h4v4h-4zM150.4 213.2h4v4h-4zM150.4 216.5h4v4h-4zM150.4 219.8h4v4h-4zM150.4 223.1h4v4h-4zM153.7 209.9h4v4h-4zM153.7 213.2h4v4h-4zM153.7 216.5h4v4h-4zM153.7 219.8h4v4h-4zM153.7 223.1h4v4h-4z"/><path fill="#ff7a00" d="M163.7 219.8h4v4h-4zM163.7 223.1h4v4h-4zM163.7 229.7h4v4h-4zM167 219.8h4v4h-4zM167 223.1h4v4h-4zM167 226.4h4v4h-4zM170.3 219.8h4v4h-4zM170.3 223.1h4v4h-4zM170.3 229.7h4v4h-4z"/><path fill="#ff6c00" d="M167 243h4v4h-4zM167 246.3h4v4h-4zM167 249.6h4v4h-4z"/><path fill="#ffa000" d="M193.5 223.1h4v4h-4zM193.5 226.4h4v4h-4zM193.5 229.7h4v4h-4zM196.8 223.1h4v4h-4zM196.8 226.4h4v4h-4zM196.8 229.7h4v4h-4zM210.1 216.5h4v4h-4zM210.1 219.8h4v4h-4zM210.1 223.1h4v4h-4zM213.4 216.5h4v4h-4zM213.4 219.8h4v4h-4zM213.4 223.1h4v4h-4zM163.7 279.5h4v4h-4zM163.7 282.8h4v4h-4zM163.7 286.1h4v4h-4zM163.7 292.7h4v4h-4zM163.7 296.1h4v4h-4zM163.7 299.4h4v4h-4zM167 279.5h4v4h-4zM167 282.8h4v4h-4zM167 286.1h4v4h-4zM167 289.4h4v4h-4zM167 296.1h4v4h-4zM170.3 279.5h4v4h-4zM170.3 282.8h4v4h-4zM170.3 286.1h4v4h-4zM170.3 289.4h4v4h-4zM170.3 292.7h4v4h-4zM170.3 296.1h4v4h-4zM170.3 299.4h4v4h-4zM173.6 279.5h4v4h-4zM173.6 282.8h4v4h-4zM173.6 286.1h4v4h-4zM173.6 289.4h4v4h-4zM173.6 296.1h4v4h-4zM173.6 299.4h4v4h-4zM176.9 279.5h4v4h-4zM176.9 282.8h4v4h-4zM176.9 286.1h4v4h-4zM176.9 289.4h4v4h-4zM176.9 292.7h4v4h-4zM176.9 296.1h4v4h-4zM176.9 299.4h4v4h-4zM180.2 279.5h4v4h-4zM180.2 282.8h4v4h-4zM180.2 289.4h4v4h-4zM180.2 296.1h4v4h-4zM180.2 299.4h4v4h-4zM183.5 279.5h4v4h-4zM183.5 282.8h4v4h-4zM183.5 286.1h4v4h-4zM183.5 289.4h4v4h-4zM183.5 296.1h4v4h-4zM183.5 299.4h4v4h-4zM186.9 282.8h4v4h-4zM186.9 289.4h4v4h-4zM186.9 292.7h4v4h-4zM186.9 296.1h4v4h-4zM186.9 299.4h4v4h-4zM299.6 253h4v4h-4zM299.6 272.8h4v4h-4zM299.6 276.2h4v4h-4zM302.9 269.5h4v4h-4zM302.9 276.2h4v4h-4zM306.2 272.8h4v4h-4z"/><path fill="#ffee00" d="M216.7 203.2h4v4h-4zM216.7 206.5h4v4h-4zM216.7 209.9h4v4h-4zM216.7 213.2h4v4h-4zM220 203.2h4v4h-4zM220 206.5h4v4h-4zM220 209.9h4v4h-4zM220 213.2h4v4h-4zM223.3 203.2h4v4h-4zM223.3 206.5h4v4h-4zM223.3 209.9h4v4h-4zM223.3 213.2h4v4h-4z"/><path fill="#c8f000" d="M223.3 193.3h4v4h-4z"/><path fill="#ff9000" d="M236.6 209.9h4v4h-4zM236.6 216.5h4v4h-4zM239.9 209.9h4v4h-4zM239.9 213.2h4v4h-4zM243.2 209.9h4v4h-4zM243.2 213.2h4v4h-4zM243.2 216.5h4v4h-4zM246.5 209.9h4v4h-4zM292.9 246.3h4v4h-4z"/><path fill="#ff1000" d="M229.9 223.1h4v4h-4zM229.9 226.4h4v4h-4zM229.9 229.7h4v4h-4zM229.9 236.4h4v4h-4zM229.9 239.7h4v4h-4zM229.9 243h4v4h-4zM233.3 223.1h4v4h-4zM233.3 229.7h4v4h-4zM233.3 233.1h4v4h-4zM233.3 243h4v4h-4zM236.6 223.1h4v4h-4zM236.6 226.4h4v4h-4zM236.6 229.7h4v4h-4zM236.6 233.1h4v4h-4zM236.6 236.4h4v4h-4zM236.6 239.7h4v4h-4zM236.6 243h4v4h-4zM239.9 223.1h4v4h-4zM239.9 226.4h4v4h-4zM239.9 229.7h4v4h-4zM239.9 233.1h4v4h-4zM239.9 236.4h4v4h-4zM239.9 239.7h4v4h-4zM239.9 243h4v4h-4zM243.2 223.1h4v4h-4zM243.2 229.7h4v4h-4zM243.2 233.1h4v4h-4zM243.2 236.4h4v4h-4zM243.2 239.7h4v4h-4zM243.2 243h4v4h-4zM246.5 223.1h4v4h-4zM246.5 226.4h4v4h-4zM246.5 239.7h4v4h-4zM246.5 243h4v4h-4zM249.8 223.1h4v4h-4zM249.8 226.4h4v4h-4zM249.8 243h4v4h-4zM206.7 239.7h4v4h-4zM223.3 236.4h4v4h-4zM226.6 233.1h4v4h-4zM229.9 243h4v4h-4zM229.9 246.3h4v4h-4zM216.7 253h4v4h-4zM233.3 253h4v4h-4zM239.9 259.6h4v4h-4zM239.9 269.5h4v4h-4zM249.8 249.6h4v4h-4zM226.6 223.1h4v4h-4zM276.4 249.6h4v4h-4zM269.7 266.2h4v4h-4zM253.2 282.8h4v4h-4z"/><path fill="#c00000" d="M196.8 269.5h4v4h-4zM196.8 272.8h4v4h-4zM200.1 266.2h4v4h-4zM200.1 272.8h4v4h-4zM203.4 266.2h4v4h-4zM203.4 269.5h4v4h-4zM203.4 272.8h4v4h-4zM206.7 266.2h4v4h-4zM206.7 272.8h4v4h-4z"/><path fill="#e00000" d="M206.7 276.2h4v4h-4zM206.7 279.5h4v4h-4zM206.7 282.8h4v4h-4zM206.7 286.1h4v4h-4zM216.7 269.5h4v4h-4zM216.7 272.8h4v4h-4zM246.5 226.4h4v4h-4zM246.5 239.7h4v4h-4zM246.5 246.3h4v4h-4zM249.8 229.7h4v4h-4zM249.8 243h4v4h-4zM249.8 249.6h4v4h-4zM253.2 226.4h4v4h-4zM253.2 249.6h4v4h-4zM259.8 236.4h4v4h-4zM259.8 239.7h4v4h-4z"/><path fill="#ff7000" d="M193.5 292.7h4v4h-4zM292.9 233.1h4v4h-4z"/><path fill="#ffc800" d="M233.3 292.7h4v4h-4zM233.3 296.1h4v4h-4zM233.3 299.4h4v4h-4zM236.6 292.7h4v4h-4zM236.6 296.1h4v4h-4zM236.6 299.4h4v4h-4zM239.9 292.7h4v4h-4zM239.9 296.1h4v4h-4zM239.9 299.4h4v4h-4z"/><path fill="#ffb000" d="M249.8 296.1h4v4h-4z"/><path fill="#70e040" d="M292.9 193.3h4v4h-4zM292.9 196.6h4v4h-4zM292.9 199.9h4v4h-4zM296.2 190h4v4h-4zM296.2 193.3h4v4h-4zM296.2 196.6h4v4h-4zM299.6 190h4v4h-4zM299.6 193.3h4v4h-4zM299.6 199.9h4v4h-4zM302.9 190h4v4h-4zM302.9 193.3h4v4h-4zM302.9 196.6h4v4h-4zM302.9 199.9h4v4h-4z"/><path fill="#ffe000" d="M279.7 206.5h4v4h-4zM299.6 219.8h4v4h-4zM299.6 223.1h4v4h-4zM299.6 226.4h4v4h-4zM302.9 219.8h4v4h-4zM302.9 223.1h4v4h-4zM302.9 226.4h4v4h-4zM306.2 219.8h4v4h-4zM306.2 223.1h4v4h-4zM306.2 226.4h4v4h-4zM309.5 219.8h4v4h-4zM309.5 223.1h4v4h-4zM309.5 226.4h4v4h-4zM312.8 233.1h4v4h-4zM312.8 243h4v4h-4zM312.8 253h4v4h-4zM316.1 243h4v4h-4zM316.1 246.3h4v4h-4zM316.1 256.3h4v4h-4zM319.5 236.4h4v4h-4zM319.5 239.7h4v4h-4zM319.5 243h4v4h-4zM322.8 233.1h4v4h-4zM322.8 243h4v4h-4zM322.8 249.6h4v4h-4zM322.8 259.6h4v4h-4zM319.5 269.5h4v4h-4z"/><path fill="#a0e830" d="M289.6 193.3h4v4h-4zM316.1 292.7h4v4h-4z"/><path fill="#ffa800" d="M286.3 216.5h4v4h-4zM286.3 219.8h4v4h-4zM286.3 223.1h4v4h-4zM286.3 226.4h4v4h-4zM289.6 216.5h4v4h-4zM289.6 219.8h4v4h-4zM289.6 223.1h4v4h-4zM292.9 213.2h4v4h-4zM292.9 216.5h4v4h-4zM292.9 219.8h4v4h-4zM292.9 223.1h4v4h-4zM292.9 226.4h4v4h-4zM296.2 213.2h4v4h-4zM296.2 216.5h4v4h-4zM296.2 219.8h4v4h-4zM296.2 223.1h4v4h-4zM296.2 226.4h4v4h-4zM299.6 213.2h4v4h-4zM299.6 219.8h4v4h-4zM299.6 223.1h4v4h-4zM299.6 226.4h4v4h-4zM299.6 233.1h4v4h-4zM299.6 239.7h4v4h-4zM299.6 243h4v4h-4zM299.6 249.6h4v4h-4zM299.6 253h4v4h-4zM302.9 236.4h4v4h-4zM302.9 239.7h4v4h-4zM302.9 243h4v4h-4zM302.9 249.6h4v4h-4zM302.9 253h4v4h-4zM306.2 233.1h4v4h-4zM306.2 236.4h4v4h-4zM306.2 239.7h4v4h-4zM306.2 243h4v4h-4zM306.2 246.3h4v4h-4zM306.2 249.6h4v4h-4zM309.5 236.4h4v4h-4zM309.5 239.7h4v4h-4zM309.5 246.3h4v4h-4zM309.5 253h4v4h-4z"/><path fill="#ff5000" d="M276.4 223.1h4v4h-4zM276.4 226.4h4v4h-4zM276.4 229.7h4v4h-4zM276.4 233.1h4v4h-4zM276.4 236.4h4v4h-4zM279.7 223.1h4v4h-4zM279.7 229.7h4v4h-4zM279.7 233.1h4v4h-4zM279.7 236.4h4v4h-4zM283 223.1h4v4h-4zM283 229.7h4v4h-4zM283 233.1h4v4h-4zM283 236.4h4v4h-4zM286.3 223.1h4v4h-4zM286.3 226.4h4v4h-4zM286.3 229.7h4v4h-4zM286.3 233.1h4v4h-4zM286.3 236.4h4v4h-4zM289.6 223.1h4v4h-4zM289.6 229.7h4v4h-4zM289.6 233.1h4v4h-4zM289.6 236.4h4v4h-4z"/><path fill="#a0e820" d="M306.2 209.9h4v4h-4zM306.2 219.8h4v4h-4zM306.2 223.1h4v4h-4zM306.2 226.4h4v4h-4zM309.5 206.5h4v4h-4zM309.5 209.9h4v4h-4zM309.5 216.5h4v4h-4zM309.5 226.4h4v4h-4zM312.8 209.9h4v4h-4zM312.8 216.5h4v4h-4zM312.8 219.8h4v4h-4zM312.8 226.4h4v4h-4zM316.1 206.5h4v4h-4zM316.1 209.9h4v4h-4zM316.1 216.5h4v4h-4zM316.1 223.1h4v4h-4zM316.1 226.4h4v4h-4zM319.5 209.9h4v4h-4zM319.5 213.2h4v4h-4zM319.5 216.5h4v4h-4zM319.5 219.8h4v4h-4zM319.5 226.4h4v4h-4zM322.8 206.5h4v4h-4zM322.8 209.9h4v4h-4zM322.8 213.2h4v4h-4zM322.8 216.5h4v4h-4zM322.8 223.1h4v4h-4zM322.8 226.4h4v4h-4z"/><path fill="#80e040" d="M322.8 213.2h4v4h-4zM322.8 216.5h4v4h-4zM322.8 219.8h4v4h-4zM326.1 213.2h4v4h-4zM326.1 219.8h4v4h-4zM329.4 216.5h4v4h-4zM329.4 219.8h4v4h-4z"/><path fill="#c0f000" d="M319.5 243h4v4h-4zM322.8 243h4v4h-4zM326.1 243h4v4h-4zM329.4 243h4v4h-4z"/><path fill="#90e030" d="M336 239.7h4v4h-4zM336 243h4v4h-4zM336 246.3h4v4h-4zM336 249.6h4v4h-4z"/><path fill="#ff3000" d="M253.2 219.8h4v4h-4z"/><path fill="#ff2000" d="M286.3 249.6h4v4h-4zM286.3 253h4v4h-4z"/><path fill="#f00000" d="M253.2 259.6h4v4h-4zM256.5 262.9h4v4h-4zM253.2 272.8h4v4h-4zM263.1 279.5h4v4h-4z"/><path fill="#ff8000" d="M296.2 243h4v4h-4z"/><path fill="#ff6000" d="M276.4 272.8h4v4h-4zM276.4 276.2h4v4h-4zM276.4 279.5h4v4h-4zM276.4 286.1h4v4h-4zM279.7 269.5h4v4h-4zM279.7 272.8h4v4h-4zM279.7 276.2h4v4h-4zM279.7 279.5h4v4h-4zM279.7 282.8h4v4h-4zM279.7 286.1h4v4h-4zM283 269.5h4v4h-4zM283 272.8h4v4h-4zM283 276.2h4v4h-4zM283 279.5h4v4h-4zM283 282.8h4v4h-4zM283 286.1h4v4h-4zM286.3 269.5h4v4h-4zM286.3 272.8h4v4h-4zM286.3 276.2h4v4h-4zM286.3 279.5h4v4h-4zM286.3 282.8h4v4h-4zM286.3 286.1h4v4h-4z"/><path fill="#d0f000" d="M302.9 289.4h4v4h-4z"/><path fill="#80e840" d="M326.1 282.8h4v4h-4zM326.1 286.1h4v4h-4zM329.4 272.8h4v4h-4zM329.4 279.5h4v4h-4zM329.4 282.8h4v4h-4zM329.4 286.1h4v4h-4zM332.7 272.8h4v4h-4zM332.7 276.2h4v4h-4zM332.7 279.5h4v4h-4zM332.7 286.1h4v4h-4zM336 272.8h4v4h-4zM339.3 272.8h4v4h-4zM339.3 286.1h4v4h-4zM342.7 276.2h4v4h-4z"/><path fill="#40e860" d="M322.8 292.7h4v4h-4zM322.8 299.4h4v4h-4zM322.8 302.7h4v4h-4zM326.1 292.7h4v4h-4zM326.1 299.4h4v4h-4zM326.1 302.7h4v4h-4zM329.4 296.1h4v4h-4zM329.4 299.4h4v4h-4zM329.4 302.7h4v4h-4z"/><path fill="#20e880" d="M332.7 292.7h4v4h-4zM332.7 296.1h4v4h-4zM332.7 299.4h4v4h-4zM332.7 302.7h4v4h-4zM332.7 306h4v4h-4zM332.7 309.3h4v4h-4zM332.7 312.6h4v4h-4z"/><path fill="#00e890" d="M355.9 276.2h4v4h-4zM355.9 279.5h4v4h-4zM355.9 282.8h4v4h-4zM355.9 289.4h4v4h-4zM355.9 292.7h4v4h-4zM355.9 296.1h4v4h-4zM359.2 276.2h4v4h-4zM359.2 279.5h4v4h-4zM359.2 282.8h4v4h-4zM359.2 286.1h4v4h-4zM359.2 289.4h4v4h-4zM359.2 292.7h4v4h-4zM359.2 296.1h4v4h-4zM359.2 299.4h4v4h-4zM362.5 276.2h4v4h-4zM362.5 292.7h4v4h-4zM362.5 299.4h4v4h-4zM359.2 302.7h4v4h-4zM359.2 306h4v4h-4zM359.2 309.3h4v4h-4zM362.5 302.7h4v4h-4zM362.5 306h4v4h-4zM362.5 309.3h4v4h-4zM365.9 302.7h4v4h-4zM365.9 306h4v4h-4zM365.9 309.3h4v4h-4z"/></g>
<rect x="8.5" y="23.5" width="51.4" height="79.4" fill="#fff"/>
<path d="M34.6 38.4L10.4 101.5L34.6 77.4Z" fill="#6e6e6e"/><path d="M34.6 38.4L58.8 101.5L34.6 77.4Z" fill="#8c8c8c"/>
<path d="M34.6 38.4L10.4 101.5L34.6 77.4L58.8 101.5Z" fill="none" stroke="#000" stroke-width="2.5" stroke-linejoin="miter" stroke-miterlimit="10"/>
<path d="M28.9 38.6V23.8L39.1 38.6V23.8" fill="none" stroke="#8a8a8a" stroke-width="1.6" stroke-linejoin="bevel"/>
<rect x="129" y="468.9" width="65.1" height="5.2" fill="#000" stroke="#000" stroke-width="0.8"/>
<rect x="194.1" y="468.9" width="65.1" height="5.2" fill="#fff" stroke="#9a9a9a" stroke-width="0.8"/>
<rect x="259.2" y="468.9" width="65.1" height="5.2" fill="#000" stroke="#000" stroke-width="0.8"/>
<rect x="324.3" y="468.9" width="65.1" height="5.2" fill="#fff" stroke="#9a9a9a" stroke-width="0.8"/>
<text x="129" y="464.5" text-anchor="middle" style="font-family:'Liberation Serif',serif;font-size:14.2px" fill="#2a2a2a">0</text>
<text x="194.1" y="464.5" text-anchor="middle" style="font-family:'Liberation Serif',serif;font-size:14.2px" fill="#2a2a2a" textLength="30.6" lengthAdjust="spacingAndGlyphs">2.000</text>
<text x="259.2" y="464.5" text-anchor="middle" style="font-family:'Liberation Serif',serif;font-size:14.2px" fill="#2a2a2a" textLength="30.6" lengthAdjust="spacingAndGlyphs">4.000</text>
<text x="324.3" y="464.5" text-anchor="middle" style="font-family:'Liberation Serif',serif;font-size:14.2px" fill="#2a2a2a" textLength="30.6" lengthAdjust="spacingAndGlyphs">6.000</text>
<text x="389.4" y="464.5" text-anchor="middle" style="font-family:'Liberation Serif',serif;font-size:14.2px" fill="#2a2a2a" textLength="30.6" lengthAdjust="spacingAndGlyphs">8.000</text>
<text x="408" y="464.5" style="font-family:'Liberation Serif',serif;font-size:14.2px" fill="#2a2a2a">m</text>
</g>
<text x="293.1" y="23.8" text-anchor="middle" style="font-family:'Liberation Sans',sans-serif;font-weight:bold;font-size:16.8px" fill="#000" textLength="276.6" lengthAdjust="spacingAndGlyphs">Linear rate of Vertical displacement</text>
<text x="116.5" y="538.7" text-anchor="middle" style="font-family:'Liberation Sans',sans-serif;font-size:14px" fill="#484848" textLength="56.5" lengthAdjust="spacingAndGlyphs">2,562,000</text>
<text transform="translate(42.7,95.3) rotate(-90)" text-anchor="middle" style="font-family:'Liberation Sans',sans-serif;font-size:14px" fill="#484848" textLength="54.5" lengthAdjust="spacingAndGlyphs">5,788,000</text>
<text x="247" y="538.7" text-anchor="middle" style="font-family:'Liberation Sans',sans-serif;font-size:14px" fill="#484848" textLength="56.5" lengthAdjust="spacingAndGlyphs">2,566,000</text>
<text transform="translate(42.7,225.9) rotate(-90)" text-anchor="middle" style="font-family:'Liberation Sans',sans-serif;font-size:14px" fill="#484848" textLength="54.5" lengthAdjust="spacingAndGlyphs">5,784,000</text>
<text x="377.5" y="538.7" text-anchor="middle" style="font-family:'Liberation Sans',sans-serif;font-size:14px" fill="#484848" textLength="56.5" lengthAdjust="spacingAndGlyphs">2,570,000</text>
<text transform="translate(42.7,356.5) rotate(-90)" text-anchor="middle" style="font-family:'Liberation Sans',sans-serif;font-size:14px" fill="#484848" textLength="54.5" lengthAdjust="spacingAndGlyphs">5,780,000</text>
<text x="508" y="538.7" text-anchor="middle" style="font-family:'Liberation Sans',sans-serif;font-size:14px" fill="#484848" textLength="56.5" lengthAdjust="spacingAndGlyphs">2,574,000</text>
<text transform="translate(42.7,487.1) rotate(-90)" text-anchor="middle" style="font-family:'Liberation Sans',sans-serif;font-size:14px" fill="#484848" textLength="54.5" lengthAdjust="spacingAndGlyphs">5,776,000</text>
<text x="293.1" y="561.8" text-anchor="middle" style="font-family:'Liberation Sans',sans-serif;font-size:16.8px" fill="#333" textLength="86.6" lengthAdjust="spacingAndGlyphs">Easting (m)</text>
<text transform="translate(21.2,276.9) rotate(-90)" text-anchor="middle" style="font-family:'Liberation Sans',sans-serif;font-size:17.4px" fill="#333" textLength="98.5" lengthAdjust="spacingAndGlyphs">Northing (m)</text>
<rect x="542.3" y="33.4" width="11.4" height="487.0" fill="url(#cbA)" stroke="#555" stroke-width="0.9"/>
<text x="559" y="39.6" style="font-family:'Liberation Sans',sans-serif;font-size:17px" fill="#222">5</text>
<text x="559" y="120.8" style="font-family:'Liberation Sans',sans-serif;font-size:17px" fill="#222">0</text>
<text x="559" y="201.9" style="font-family:'Liberation Sans',sans-serif;font-size:17px" fill="#222">-5</text>
<text x="559" y="283.1" style="font-family:'Liberation Sans',sans-serif;font-size:17px" fill="#222">-10</text>
<text x="559" y="364.3" style="font-family:'Liberation Sans',sans-serif;font-size:17px" fill="#222">-15</text>
<text x="559" y="445.4" style="font-family:'Liberation Sans',sans-serif;font-size:17px" fill="#222">-20</text>
<text x="559" y="526.6" style="font-family:'Liberation Sans',sans-serif;font-size:17px" fill="#222">-25</text>
<path d="M549.7 114.6h4M549.7 195.7h4M549.7 276.9h4M549.7 358.1h4M549.7 439.2h4" stroke="#222" stroke-width="1"/>
<text transform="translate(603.4,276.9) rotate(-90)" text-anchor="middle" style="font-family:'Liberation Sans',sans-serif;font-size:18px" fill="#333" textLength="44.8" lengthAdjust="spacingAndGlyphs">mm/y</text>
<text x="307.9" y="604.8" text-anchor="middle" style="font-family:'Liberation Serif',serif;font-weight:bold;font-size:29px" fill="#000" textLength="33.5" lengthAdjust="spacingAndGlyphs">(a)</text>
<g transform="translate(695.5,28.5)">
<rect x="0" y="0" width="486.1" height="488.0" fill="none" stroke="#8c8c8c" stroke-width="1.1"/>
<path d="M64.3 488.0v-4.5M64.3 0v4.5M0 64.4h4.5M486.1 64.4h-4.5M194.8 488.0v-4.5M194.8 0v4.5M0 195h4.5M486.1 195h-4.5M325.3 488.0v-4.5M325.3 0v4.5M0 325.6h4.5M486.1 325.6h-4.5M455.8 488.0v-4.5M455.8 0v4.5M0 456.2h4.5M486.1 456.2h-4.5" stroke="#8c8c8c" stroke-width="1.1" fill="none"/>
<g mask="url(#mk)"><rect x="-8" y="-8" width="505" height="505" fill="#30ea6c"/><rect x="-0.2" y="-3.4" width="140" height="220" fill="#3aea62" filter="url(#bl20)"/><ellipse cx="404.8" cy="234.6" rx="35" ry="35" fill="#68e848" filter="url(#bl12)"/><ellipse cx="339.8" cy="181.6" rx="25" ry="18" fill="#10e8a0" filter="url(#bl10)"/><ellipse cx="353.8" cy="251.6" rx="13" ry="30" fill="#00e0e0" filter="url(#bl6)"/><ellipse cx="69.8" cy="266.6" rx="70" ry="70" fill="#90e840" filter="url(#bl20)"/><ellipse cx="9.8" cy="321.6" rx="8" ry="8" fill="#00e0e0" filter="url(#bl2)"/><ellipse cx="249.8" cy="256.6" rx="12" ry="45" fill="#00e0d0" filter="url(#bl8)"/><ellipse cx="429.8" cy="356.6" rx="70" ry="100" fill="#58e850" filter="url(#bl25)"/><path fill="#b0e030" d="M130.5 206.5h4v4h-4zM130.5 209.9h4v4h-4zM130.5 213.2h4v4h-4zM130.5 216.5h4v4h-4zM133.8 206.5h4v4h-4zM133.8 209.9h4v4h-4zM133.8 213.2h4v4h-4z"/><path fill="#c0e820" d="M150.4 209.9h4v4h-4zM150.4 213.2h4v4h-4zM150.4 216.5h4v4h-4zM150.4 219.8h4v4h-4zM150.4 223.1h4v4h-4zM153.7 209.9h4v4h-4zM153.7 213.2h4v4h-4zM153.7 216.5h4v4h-4zM153.7 219.8h4v4h-4zM153.7 223.1h4v4h-4z"/><path fill="#f04010" d="M163.7 219.8h4v4h-4zM163.7 223.1h4v4h-4zM163.7 229.7h4v4h-4zM167 219.8h4v4h-4zM167 223.1h4v4h-4zM167 226.4h4v4h-4zM170.3 219.8h4v4h-4zM170.3 223.1h4v4h-4zM170.3 229.7h4v4h-4zM167 243h4v4h-4zM167 246.3h4v4h-4zM167 249.6h4v4h-4z"/><path fill="#f05010" d="M193.5 223.1h4v4h-4zM193.5 226.4h4v4h-4zM193.5 229.7h4v4h-4zM196.8 223.1h4v4h-4zM196.8 226.4h4v4h-4zM196.8 229.7h4v4h-4z"/><path fill="#ffb000" d="M216.7 203.2h4v4h-4zM216.7 206.5h4v4h-4zM216.7 209.9h4v4h-4zM216.7 213.2h4v4h-4zM220 203.2h4v4h-4zM220 206.5h4v4h-4zM220 209.9h4v4h-4zM220 213.2h4v4h-4zM223.3 203.2h4v4h-4zM223.3 206.5h4v4h-4zM223.3 209.9h4v4h-4zM223.3 213.2h4v4h-4z"/><path fill="#ff9000" d="M223.3 193.3h4v4h-4zM210.1 216.5h4v4h-4zM210.1 219.8h4v4h-4zM210.1 223.1h4v4h-4zM213.4 216.5h4v4h-4zM213.4 219.8h4v4h-4zM213.4 223.1h4v4h-4z"/><path fill="#f0e000" d="M236.6 209.9h4v4h-4zM236.6 216.5h4v4h-4zM239.9 209.9h4v4h-4zM239.9 213.2h4v4h-4zM243.2 209.9h4v4h-4zM243.2 213.2h4v4h-4zM243.2 216.5h4v4h-4zM246.5 209.9h4v4h-4zM229.9 223.1h4v4h-4zM229.9 226.4h4v4h-4zM229.9 229.7h4v4h-4zM229.9 236.4h4v4h-4zM229.9 239.7h4v4h-4zM229.9 243h4v4h-4zM233.3 223.1h4v4h-4zM233.3 229.7h4v4h-4zM233.3 233.1h4v4h-4zM233.3 243h4v4h-4zM236.6 223.1h4v4h-4zM236.6 226.4h4v4h-4zM236.6 229.7h4v4h-4zM236.6 233.1h4v4h-4zM236.6 236.4h4v4h-4zM236.6 239.7h4v4h-4zM236.6 243h4v4h-4zM239.9 223.1h4v4h-4zM239.9 226.4h4v4h-4zM239.9 229.7h4v4h-4zM239.9 233.1h4v4h-4zM239.9 236.4h4v4h-4zM239.9 239.7h4v4h-4zM239.9 243h4v4h-4zM243.2 223.1h4v4h-4zM243.2 229.7h4v4h-4zM243.2 233.1h4v4h-4zM243.2 236.4h4v4h-4zM243.2 239.7h4v4h-4zM243.2 243h4v4h-4zM246.5 223.1h4v4h-4zM246.5 226.4h4v4h-4zM246.5 239.7h4v4h-4zM246.5 243h4v4h-4zM249.8 223.1h4v4h-4zM249.8 226.4h4v4h-4zM249.8 243h4v4h-4zM229.9 243h4v4h-4zM229.9 246.3h4v4h-4zM233.3 253h4v4h-4z"/><path fill="#ff8000" d="M206.7 239.7h4v4h-4z"/><path fill="#f0d000" d="M223.3 236.4h4v4h-4z"/><path fill="#ffe000" d="M226.6 233.1h4v4h-4z"/><path fill="#ffa000" d="M216.7 253h4v4h-4zM216.7 269.5h4v4h-4zM216.7 272.8h4v4h-4z"/><path fill="#e0f000" d="M239.9 259.6h4v4h-4zM239.9 269.5h4v4h-4z"/><path fill="#00e0e0" d="M249.8 249.6h4v4h-4zM253.2 219.8h4v4h-4z"/><path fill="#ffc000" d="M226.6 223.1h4v4h-4zM193.5 292.7h4v4h-4z"/><path fill="#f06010" d="M196.8 269.5h4v4h-4zM196.8 272.8h4v4h-4zM200.1 266.2h4v4h-4zM200.1 272.8h4v4h-4zM203.4 266.2h4v4h-4zM203.4 269.5h4v4h-4zM203.4 272.8h4v4h-4zM206.7 266.2h4v4h-4zM206.7 272.8h4v4h-4z"/><path fill="#f08000" d="M206.7 276.2h4v4h-4zM206.7 279.5h4v4h-4zM206.7 282.8h4v4h-4zM206.7 286.1h4v4h-4z"/><path fill="#f8d000" d="M163.7 279.5h4v4h-4zM163.7 282.8h4v4h-4zM163.7 286.1h4v4h-4zM163.7 292.7h4v4h-4zM163.7 296.1h4v4h-4zM163.7 299.4h4v4h-4zM167 279.5h4v4h-4zM167 282.8h4v4h-4zM167 286.1h4v4h-4zM167 289.4h4v4h-4zM167 296.1h4v4h-4zM170.3 279.5h4v4h-4zM170.3 282.8h4v4h-4zM170.3 286.1h4v4h-4zM170.3 289.4h4v4h-4zM170.3 292.7h4v4h-4zM170.3 296.1h4v4h-4zM170.3 299.4h4v4h-4zM173.6 279.5h4v4h-4zM173.6 282.8h4v4h-4zM173.6 286.1h4v4h-4zM173.6 289.4h4v4h-4zM173.6 296.1h4v4h-4zM173.6 299.4h4v4h-4zM176.9 279.5h4v4h-4zM176.9 282.8h4v4h-4zM176.9 286.1h4v4h-4zM176.9 289.4h4v4h-4zM176.9 292.7h4v4h-4zM176.9 296.1h4v4h-4zM176.9 299.4h4v4h-4zM180.2 279.5h4v4h-4zM180.2 282.8h4v4h-4zM180.2 289.4h4v4h-4zM180.2 296.1h4v4h-4zM180.2 299.4h4v4h-4zM183.5 279.5h4v4h-4zM183.5 282.8h4v4h-4zM183.5 286.1h4v4h-4zM183.5 289.4h4v4h-4zM183.5 296.1h4v4h-4zM183.5 299.4h4v4h-4zM186.9 282.8h4v4h-4zM186.9 289.4h4v4h-4zM186.9 292.7h4v4h-4zM186.9 296.1h4v4h-4zM186.9 299.4h4v4h-4z"/><path fill="#c0e020" d="M233.3 292.7h4v4h-4zM233.3 296.1h4v4h-4zM233.3 299.4h4v4h-4zM236.6 292.7h4v4h-4zM236.6 296.1h4v4h-4zM236.6 299.4h4v4h-4zM239.9 292.7h4v4h-4zM239.9 296.1h4v4h-4zM239.9 299.4h4v4h-4z"/><path fill="#00e8e0" d="M249.8 296.1h4v4h-4z"/><path fill="#40e870" d="M292.9 193.3h4v4h-4zM292.9 196.6h4v4h-4zM292.9 199.9h4v4h-4zM296.2 190h4v4h-4zM296.2 193.3h4v4h-4zM296.2 196.6h4v4h-4zM299.6 190h4v4h-4zM299.6 193.3h4v4h-4zM299.6 199.9h4v4h-4zM302.9 190h4v4h-4zM302.9 193.3h4v4h-4zM302.9 196.6h4v4h-4zM302.9 199.9h4v4h-4zM289.6 193.3h4v4h-4z"/><path fill="#00c8f0" d="M279.7 206.5h4v4h-4z"/><path fill="#0078f0" d="M286.3 216.5h4v4h-4zM286.3 219.8h4v4h-4zM286.3 223.1h4v4h-4zM286.3 226.4h4v4h-4zM289.6 216.5h4v4h-4zM289.6 219.8h4v4h-4zM289.6 223.1h4v4h-4zM292.9 213.2h4v4h-4zM292.9 216.5h4v4h-4zM292.9 219.8h4v4h-4zM292.9 223.1h4v4h-4zM292.9 226.4h4v4h-4zM296.2 213.2h4v4h-4zM296.2 216.5h4v4h-4zM296.2 219.8h4v4h-4zM296.2 223.1h4v4h-4zM296.2 226.4h4v4h-4zM299.6 213.2h4v4h-4zM299.6 219.8h4v4h-4zM299.6 223.1h4v4h-4zM299.6 226.4h4v4h-4z"/><path fill="#0070f0" d="M276.4 223.1h4v4h-4zM276.4 226.4h4v4h-4zM276.4 229.7h4v4h-4zM276.4 233.1h4v4h-4zM276.4 236.4h4v4h-4zM279.7 223.1h4v4h-4zM279.7 229.7h4v4h-4zM279.7 233.1h4v4h-4zM279.7 236.4h4v4h-4zM283 223.1h4v4h-4zM283 229.7h4v4h-4zM283 233.1h4v4h-4zM283 236.4h4v4h-4zM286.3 223.1h4v4h-4zM286.3 226.4h4v4h-4zM286.3 229.7h4v4h-4zM286.3 233.1h4v4h-4zM286.3 236.4h4v4h-4zM289.6 223.1h4v4h-4zM289.6 229.7h4v4h-4zM289.6 233.1h4v4h-4zM289.6 236.4h4v4h-4zM276.4 249.6h4v4h-4zM276.4 272.8h4v4h-4zM276.4 276.2h4v4h-4zM276.4 279.5h4v4h-4zM276.4 286.1h4v4h-4zM279.7 269.5h4v4h-4zM279.7 272.8h4v4h-4zM279.7 276.2h4v4h-4zM279.7 279.5h4v4h-4zM279.7 282.8h4v4h-4zM279.7 286.1h4v4h-4zM283 269.5h4v4h-4zM283 272.8h4v4h-4zM283 276.2h4v4h-4zM283 279.5h4v4h-4zM283 282.8h4v4h-4zM283 286.1h4v4h-4zM286.3 269.5h4v4h-4zM286.3 272.8h4v4h-4zM286.3 276.2h4v4h-4zM286.3 279.5h4v4h-4zM286.3 282.8h4v4h-4zM286.3 286.1h4v4h-4zM299.6 272.8h4v4h-4zM299.6 276.2h4v4h-4zM302.9 269.5h4v4h-4zM302.9 276.2h4v4h-4zM306.2 272.8h4v4h-4zM319.5 269.5h4v4h-4z"/><path fill="#0060f0" d="M299.6 219.8h4v4h-4zM299.6 223.1h4v4h-4zM299.6 226.4h4v4h-4zM302.9 219.8h4v4h-4zM302.9 223.1h4v4h-4zM302.9 226.4h4v4h-4zM306.2 219.8h4v4h-4zM306.2 223.1h4v4h-4zM306.2 226.4h4v4h-4zM309.5 219.8h4v4h-4zM309.5 223.1h4v4h-4zM309.5 226.4h4v4h-4zM286.3 253h4v4h-4zM299.6 253h4v4h-4z"/><path fill="#00a8f0" d="M306.2 209.9h4v4h-4zM306.2 219.8h4v4h-4zM306.2 223.1h4v4h-4zM306.2 226.4h4v4h-4zM309.5 206.5h4v4h-4zM309.5 209.9h4v4h-4zM309.5 216.5h4v4h-4zM309.5 226.4h4v4h-4zM312.8 209.9h4v4h-4zM312.8 216.5h4v4h-4zM312.8 219.8h4v4h-4zM312.8 226.4h4v4h-4zM316.1 206.5h4v4h-4zM316.1 209.9h4v4h-4zM316.1 216.5h4v4h-4zM316.1 223.1h4v4h-4zM316.1 226.4h4v4h-4zM319.5 209.9h4v4h-4zM319.5 213.2h4v4h-4zM319.5 216.5h4v4h-4zM319.5 219.8h4v4h-4zM319.5 226.4h4v4h-4zM322.8 206.5h4v4h-4zM322.8 209.9h4v4h-4zM322.8 213.2h4v4h-4zM322.8 216.5h4v4h-4zM322.8 223.1h4v4h-4zM322.8 226.4h4v4h-4z"/><path fill="#00d0f0" d="M322.8 213.2h4v4h-4zM322.8 216.5h4v4h-4zM322.8 219.8h4v4h-4zM326.1 213.2h4v4h-4zM326.1 219.8h4v4h-4zM329.4 216.5h4v4h-4zM329.4 219.8h4v4h-4zM256.5 262.9h4v4h-4z"/><path fill="#0020d0" d="M299.6 233.1h4v4h-4zM299.6 239.7h4v4h-4zM299.6 243h4v4h-4zM299.6 249.6h4v4h-4zM299.6 253h4v4h-4zM302.9 236.4h4v4h-4zM302.9 239.7h4v4h-4zM302.9 243h4v4h-4zM302.9 249.6h4v4h-4zM302.9 253h4v4h-4zM306.2 233.1h4v4h-4zM306.2 236.4h4v4h-4zM306.2 239.7h4v4h-4zM306.2 243h4v4h-4zM306.2 246.3h4v4h-4zM306.2 249.6h4v4h-4zM309.5 236.4h4v4h-4zM309.5 239.7h4v4h-4zM309.5 246.3h4v4h-4zM309.5 253h4v4h-4z"/><path fill="#0040e0" d="M312.8 233.1h4v4h-4zM312.8 243h4v4h-4zM312.8 253h4v4h-4zM316.1 243h4v4h-4zM316.1 246.3h4v4h-4zM316.1 256.3h4v4h-4zM319.5 236.4h4v4h-4zM319.5 239.7h4v4h-4zM319.5 243h4v4h-4zM322.8 233.1h4v4h-4zM322.8 243h4v4h-4zM322.8 249.6h4v4h-4zM322.8 259.6h4v4h-4zM292.9 233.1h4v4h-4zM292.9 246.3h4v4h-4z"/><path fill="#00b0f0" d="M319.5 243h4v4h-4zM322.8 243h4v4h-4zM326.1 243h4v4h-4zM329.4 243h4v4h-4z"/><path fill="#00e0f0" d="M336 239.7h4v4h-4zM336 243h4v4h-4zM336 246.3h4v4h-4zM336 249.6h4v4h-4zM253.2 259.6h4v4h-4zM269.7 266.2h4v4h-4zM253.2 272.8h4v4h-4zM263.1 279.5h4v4h-4zM253.2 282.8h4v4h-4zM316.1 292.7h4v4h-4z"/><path fill="#00d8e0" d="M246.5 226.4h4v4h-4zM246.5 239.7h4v4h-4zM246.5 246.3h4v4h-4zM249.8 229.7h4v4h-4zM249.8 243h4v4h-4zM249.8 249.6h4v4h-4zM253.2 226.4h4v4h-4zM253.2 249.6h4v4h-4zM259.8 236.4h4v4h-4zM259.8 239.7h4v4h-4zM326.1 282.8h4v4h-4zM326.1 286.1h4v4h-4zM329.4 272.8h4v4h-4zM329.4 279.5h4v4h-4zM329.4 282.8h4v4h-4zM329.4 286.1h4v4h-4zM332.7 272.8h4v4h-4zM332.7 276.2h4v4h-4zM332.7 279.5h4v4h-4zM332.7 286.1h4v4h-4zM336 272.8h4v4h-4zM339.3 272.8h4v4h-4zM339.3 286.1h4v4h-4zM342.7 276.2h4v4h-4z"/><path fill="#0050f0" d="M286.3 249.6h4v4h-4z"/><path fill="#0030d0" d="M296.2 243h4v4h-4z"/><path fill="#00c0f0" d="M302.9 289.4h4v4h-4z"/><path fill="#00e0d0" d="M322.8 292.7h4v4h-4zM322.8 299.4h4v4h-4zM322.8 302.7h4v4h-4zM326.1 292.7h4v4h-4zM326.1 299.4h4v4h-4zM326.1 302.7h4v4h-4zM329.4 296.1h4v4h-4zM329.4 299.4h4v4h-4zM329.4 302.7h4v4h-4z"/><path fill="#00e8b0" d="M332.7 292.7h4v4h-4zM332.7 296.1h4v4h-4zM332.7 299.4h4v4h-4zM332.7 302.7h4v4h-4zM332.7 306h4v4h-4zM332.7 309.3h4v4h-4zM332.7 312.6h4v4h-4zM355.9 276.2h4v4h-4zM355.9 279.5h4v4h-4zM355.9 282.8h4v4h-4zM355.9 289.4h4v4h-4zM355.9 292.7h4v4h-4zM355.9 296.1h4v4h-4zM359.2 276.2h4v4h-4zM359.2 279.5h4v4h-4zM359.2 282.8h4v4h-4zM359.2 286.1h4v4h-4zM359.2 289.4h4v4h-4zM359.2 292.7h4v4h-4zM359.2 296.1h4v4h-4zM359.2 299.4h4v4h-4zM362.5 276.2h4v4h-4zM362.5 292.7h4v4h-4zM362.5 299.4h4v4h-4zM359.2 302.7h4v4h-4zM359.2 306h4v4h-4zM359.2 309.3h4v4h-4zM362.5 302.7h4v4h-4zM362.5 306h4v4h-4zM362.5 309.3h4v4h-4zM365.9 302.7h4v4h-4zM365.9 306h4v4h-4zM365.9 309.3h4v4h-4z"/></g>
<rect x="8.5" y="23.5" width="51.4" height="79.4" fill="#fff"/>
<path d="M34.6 38.4L10.4 101.5L34.6 77.4Z" fill="#6e6e6e"/><path d="M34.6 38.4L58.8 101.5L34.6 77.4Z" fill="#8c8c8c"/>
<path d="M34.6 38.4L10.4 101.5L34.6 77.4L58.8 101.5Z" fill="none" stroke="#000" stroke-width="2.5" stroke-linejoin="miter" stroke-miterlimit="10"/>
<path d="M28.9 38.6V23.8L39.1 38.6V23.8" fill="none" stroke="#8a8a8a" stroke-width="1.6" stroke-linejoin="bevel"/>
<rect x="129" y="468.9" width="65.1" height="5.2" fill="#000" stroke="#000" stroke-width="0.8"/>
<rect x="194.1" y="468.9" width="65.1" height="5.2" fill="#fff" stroke="#9a9a9a" stroke-width="0.8"/>
<rect x="259.2" y="468.9" width="65.1" height="5.2" fill="#000" stroke="#000" stroke-width="0.8"/>
<rect x="324.3" y="468.9" width="65.1" height="5.2" fill="#fff" stroke="#9a9a9a" stroke-width="0.8"/>
<text x="129" y="464.5" text-anchor="middle" style="font-family:'Liberation Serif',serif;font-size:14.2px" fill="#2a2a2a">0</text>
<text x="194.1" y="464.5" text-anchor="middle" style="font-family:'Liberation Serif',serif;font-size:14.2px" fill="#2a2a2a" textLength="30.6" lengthAdjust="spacingAndGlyphs">2.000</text>
<text x="259.2" y="464.5" text-anchor="middle" style="font-family:'Liberation Serif',serif;font-size:14.2px" fill="#2a2a2a" textLength="30.6" lengthAdjust="spacingAndGlyphs">4.000</text>
<text x="324.3" y="464.5" text-anchor="middle" style="font-family:'Liberation Serif',serif;font-size:14.2px" fill="#2a2a2a" textLength="30.6" lengthAdjust="spacingAndGlyphs">6.000</text>
<text x="389.4" y="464.5" text-anchor="middle" style="font-family:'Liberation Serif',serif;font-size:14.2px" fill="#2a2a2a" textLength="30.6" lengthAdjust="spacingAndGlyphs">8.000</text>
<text x="408" y="464.5" style="font-family:'Liberation Serif',serif;font-size:14.2px" fill="#2a2a2a">m</text>
</g>
<text x="938.5" y="19.6" text-anchor="middle" style="font-family:'Liberation Sans',sans-serif;font-weight:bold;font-size:16.8px" fill="#000" textLength="274" lengthAdjust="spacingAndGlyphs">Linear rate of East-West movement</text>
<text x="761.8" y="534.8" text-anchor="middle" style="font-family:'Liberation Sans',sans-serif;font-size:14px" fill="#484848" textLength="56.5" lengthAdjust="spacingAndGlyphs">2,562,000</text>
<text transform="translate(688,90.4) rotate(-90)" text-anchor="middle" style="font-family:'Liberation Sans',sans-serif;font-size:14px" fill="#484848" textLength="54.5" lengthAdjust="spacingAndGlyphs">5,788,000</text>
<text x="892.3" y="534.8" text-anchor="middle" style="font-family:'Liberation Sans',sans-serif;font-size:14px" fill="#484848" textLength="56.5" lengthAdjust="spacingAndGlyphs">2,566,000</text>
<text transform="translate(688,221) rotate(-90)" text-anchor="middle" style="font-family:'Liberation Sans',sans-serif;font-size:14px" fill="#484848" textLength="54.5" lengthAdjust="spacingAndGlyphs">5,784,000</text>
<text x="1022.8" y="534.8" text-anchor="middle" style="font-family:'Liberation Sans',sans-serif;font-size:14px" fill="#484848" textLength="56.5" lengthAdjust="spacingAndGlyphs">2,570,000</text>
<text transform="translate(688,351.6) rotate(-90)" text-anchor="middle" style="font-family:'Liberation Sans',sans-serif;font-size:14px" fill="#484848" textLength="54.5" lengthAdjust="spacingAndGlyphs">5,780,000</text>
<text x="1153.3" y="534.8" text-anchor="middle" style="font-family:'Liberation Sans',sans-serif;font-size:14px" fill="#484848" textLength="56.5" lengthAdjust="spacingAndGlyphs">2,574,000</text>
<text transform="translate(688,482.2) rotate(-90)" text-anchor="middle" style="font-family:'Liberation Sans',sans-serif;font-size:14px" fill="#484848" textLength="54.5" lengthAdjust="spacingAndGlyphs">5,776,000</text>
<text x="938.5" y="557.9" text-anchor="middle" style="font-family:'Liberation Sans',sans-serif;font-size:16.8px" fill="#333" textLength="86.6" lengthAdjust="spacingAndGlyphs">Easting (m)</text>
<text transform="translate(666.5,272.5) rotate(-90)" text-anchor="middle" style="font-family:'Liberation Sans',sans-serif;font-size:17.4px" fill="#333" textLength="98.5" lengthAdjust="spacingAndGlyphs">Northing (m)</text>
<rect x="1187.1" y="28.5" width="12.0" height="488.0" fill="url(#cbB)" stroke="#555" stroke-width="0.9"/>
<text x="1204.4" y="34.7" style="font-family:'Liberation Sans',sans-serif;font-size:17px" fill="#222">10</text>
<text x="1204.4" y="83.5" style="font-family:'Liberation Sans',sans-serif;font-size:17px" fill="#222">8</text>
<text x="1204.4" y="132.3" style="font-family:'Liberation Sans',sans-serif;font-size:17px" fill="#222">6</text>
<text x="1204.4" y="181.1" style="font-family:'Liberation Sans',sans-serif;font-size:17px" fill="#222">4</text>
<text x="1204.4" y="229.9" style="font-family:'Liberation Sans',sans-serif;font-size:17px" fill="#222">2</text>
<text x="1204.4" y="278.7" style="font-family:'Liberation Sans',sans-serif;font-size:17px" fill="#222">0</text>
<text x="1204.4" y="327.5" style="font-family:'Liberation Sans',sans-serif;font-size:17px" fill="#222">-2</text>
<text x="1204.4" y="376.3" style="font-family:'Liberation Sans',sans-serif;font-size:17px" fill="#222">-4</text>
<text x="1204.4" y="425.1" style="font-family:'Liberation Sans',sans-serif;font-size:17px" fill="#222">-6</text>
<text x="1204.4" y="473.9" style="font-family:'Liberation Sans',sans-serif;font-size:17px" fill="#222">-8</text>
<text x="1204.4" y="522.7" style="font-family:'Liberation Sans',sans-serif;font-size:17px" fill="#222">-10</text>
<path d="M1195.1 77.3h4M1195.1 126.1h4M1195.1 174.9h4M1195.1 223.7h4M1195.1 272.5h4M1195.1 321.3h4M1195.1 370.1h4M1195.1 418.9h4M1195.1 467.7h4" stroke="#222" stroke-width="1"/>
<text transform="translate(1248.8,272.5) rotate(-90)" text-anchor="middle" style="font-family:'Liberation Sans',sans-serif;font-size:18px" fill="#333" textLength="44.8" lengthAdjust="spacingAndGlyphs">mm/y</text>
<text x="952.8" y="604.8" text-anchor="middle" style="font-family:'Liberation Serif',serif;font-weight:bold;font-size:29px" fill="#000" textLength="33.5" lengthAdjust="spacingAndGlyphs">(b)</text>
<g transform="translate(50.2,647.4)">
<rect x="0" y="0" width="485.7" height="487.5" fill="none" stroke="#8c8c8c" stroke-width="1.1"/>
<path d="M64.3 487.5v-4.5M64.3 0v4.5M0 64.4h4.5M485.7 64.4h-4.5M194.8 487.5v-4.5M194.8 0v4.5M0 195h4.5M485.7 195h-4.5M325.3 487.5v-4.5M325.3 0v4.5M0 325.6h4.5M485.7 325.6h-4.5M455.8 487.5v-4.5M455.8 0v4.5M0 456.2h4.5M485.7 456.2h-4.5" stroke="#8c8c8c" stroke-width="1.1" fill="none"/>
<g mask="url(#mk)"><rect x="-8" y="-8" width="505" height="505" fill="#08f27c"/><linearGradient id="lgc1" x1="0" y1="0" x2="1" y2="0"><stop offset="0" stop-color="#c8f000"/><stop offset="0.35" stop-color="#b0f000"/><stop offset="0.6" stop-color="#70f040"/><stop offset="1" stop-color="#10f080"/></linearGradient><rect x="284.8" y="146.6" width="120" height="170" fill="url(#lgc1)" filter="url(#bl10)"/><ellipse cx="298.8" cy="188.6" rx="8" ry="16" fill="#b8f000" filter="url(#bl3)"/><path fill="#a0e830" d="M130.5 206.5h4v4h-4zM130.5 209.9h4v4h-4zM130.5 213.2h4v4h-4zM130.5 216.5h4v4h-4zM133.8 206.5h4v4h-4zM133.8 209.9h4v4h-4zM133.8 213.2h4v4h-4z"/><path fill="#f0f000" d="M150.4 209.9h4v4h-4zM150.4 213.2h4v4h-4zM150.4 216.5h4v4h-4zM150.4 219.8h4v4h-4zM150.4 223.1h4v4h-4zM153.7 209.9h4v4h-4zM153.7 213.2h4v4h-4zM153.7 216.5h4v4h-4zM153.7 219.8h4v4h-4zM153.7 223.1h4v4h-4z"/><path fill="#ffc000" d="M163.7 219.8h4v4h-4zM163.7 223.1h4v4h-4zM163.7 229.7h4v4h-4zM167 219.8h4v4h-4zM167 223.1h4v4h-4zM167 226.4h4v4h-4zM170.3 219.8h4v4h-4zM170.3 223.1h4v4h-4zM170.3 229.7h4v4h-4z"/><path fill="#ff8000" d="M167 243h4v4h-4zM167 246.3h4v4h-4zM167 249.6h4v4h-4zM193.5 223.1h4v4h-4zM193.5 226.4h4v4h-4zM193.5 229.7h4v4h-4zM196.8 223.1h4v4h-4zM196.8 226.4h4v4h-4zM196.8 229.7h4v4h-4zM206.7 276.2h4v4h-4zM206.7 279.5h4v4h-4zM206.7 282.8h4v4h-4zM206.7 286.1h4v4h-4zM216.7 269.5h4v4h-4zM216.7 272.8h4v4h-4zM296.2 243h4v4h-4z"/><path fill="#ffb000" d="M216.7 203.2h4v4h-4zM216.7 206.5h4v4h-4zM216.7 209.9h4v4h-4zM216.7 213.2h4v4h-4zM220 203.2h4v4h-4zM220 206.5h4v4h-4zM220 209.9h4v4h-4zM220 213.2h4v4h-4zM223.3 203.2h4v4h-4zM223.3 206.5h4v4h-4zM223.3 209.9h4v4h-4zM223.3 213.2h4v4h-4zM249.8 296.1h4v4h-4z"/><path fill="#c8f000" d="M223.3 193.3h4v4h-4zM326.1 282.8h4v4h-4zM326.1 286.1h4v4h-4zM329.4 272.8h4v4h-4zM329.4 279.5h4v4h-4zM329.4 282.8h4v4h-4zM329.4 286.1h4v4h-4zM332.7 272.8h4v4h-4zM332.7 276.2h4v4h-4zM332.7 279.5h4v4h-4zM332.7 286.1h4v4h-4zM336 272.8h4v4h-4zM339.3 272.8h4v4h-4zM339.3 286.1h4v4h-4zM342.7 276.2h4v4h-4z"/><path fill="#ff6000" d="M210.1 216.5h4v4h-4zM210.1 219.8h4v4h-4zM210.1 223.1h4v4h-4zM213.4 216.5h4v4h-4zM213.4 219.8h4v4h-4zM213.4 223.1h4v4h-4zM276.4 272.8h4v4h-4zM276.4 276.2h4v4h-4zM276.4 279.5h4v4h-4zM276.4 286.1h4v4h-4zM279.7 269.5h4v4h-4zM279.7 272.8h4v4h-4zM279.7 276.2h4v4h-4zM279.7 279.5h4v4h-4zM279.7 282.8h4v4h-4zM279.7 286.1h4v4h-4zM283 269.5h4v4h-4zM283 272.8h4v4h-4zM283 276.2h4v4h-4zM283 279.5h4v4h-4zM283 282.8h4v4h-4zM283 286.1h4v4h-4zM286.3 269.5h4v4h-4zM286.3 272.8h4v4h-4zM286.3 276.2h4v4h-4zM286.3 279.5h4v4h-4zM286.3 282.8h4v4h-4zM286.3 286.1h4v4h-4z"/><path fill="#ff9000" d="M236.6 209.9h4v4h-4zM236.6 216.5h4v4h-4zM239.9 209.9h4v4h-4zM239.9 213.2h4v4h-4zM243.2 209.9h4v4h-4zM243.2 213.2h4v4h-4zM243.2 216.5h4v4h-4zM246.5 209.9h4v4h-4zM292.9 246.3h4v4h-4z"/><path fill="#ff1000" d="M229.9 223.1h4v4h-4zM229.9 226.4h4v4h-4zM229.9 229.7h4v4h-4zM229.9 236.4h4v4h-4zM229.9 239.7h4v4h-4zM229.9 243h4v4h-4zM233.3 223.1h4v4h-4zM233.3 229.7h4v4h-4zM233.3 233.1h4v4h-4zM233.3 243h4v4h-4zM236.6 223.1h4v4h-4zM236.6 226.4h4v4h-4zM236.6 229.7h4v4h-4zM236.6 233.1h4v4h-4zM236.6 236.4h4v4h-4zM236.6 239.7h4v4h-4zM236.6 243h4v4h-4zM239.9 223.1h4v4h-4zM239.9 226.4h4v4h-4zM239.9 229.7h4v4h-4zM239.9 233.1h4v4h-4zM239.9 236.4h4v4h-4zM239.9 239.7h4v4h-4zM239.9 243h4v4h-4zM243.2 223.1h4v4h-4zM243.2 229.7h4v4h-4zM243.2 233.1h4v4h-4zM243.2 236.4h4v4h-4zM243.2 239.7h4v4h-4zM243.2 243h4v4h-4zM246.5 223.1h4v4h-4zM246.5 226.4h4v4h-4zM246.5 239.7h4v4h-4zM246.5 243h4v4h-4zM249.8 223.1h4v4h-4zM249.8 226.4h4v4h-4zM249.8 243h4v4h-4zM206.7 239.7h4v4h-4zM223.3 236.4h4v4h-4zM226.6 233.1h4v4h-4zM229.9 243h4v4h-4zM229.9 246.3h4v4h-4zM216.7 253h4v4h-4zM233.3 253h4v4h-4zM239.9 259.6h4v4h-4zM239.9 269.5h4v4h-4zM249.8 249.6h4v4h-4zM226.6 223.1h4v4h-4zM276.4 249.6h4v4h-4zM269.7 266.2h4v4h-4zM253.2 282.8h4v4h-4z"/><path fill="#ff7000" d="M196.8 269.5h4v4h-4zM196.8 272.8h4v4h-4zM200.1 266.2h4v4h-4zM200.1 272.8h4v4h-4zM203.4 266.2h4v4h-4zM203.4 269.5h4v4h-4zM203.4 272.8h4v4h-4zM206.7 266.2h4v4h-4zM206.7 272.8h4v4h-4zM193.5 292.7h4v4h-4zM292.9 233.1h4v4h-4z"/><path fill="#ffa000" d="M163.7 279.5h4v4h-4zM163.7 282.8h4v4h-4zM163.7 286.1h4v4h-4zM163.7 292.7h4v4h-4zM163.7 296.1h4v4h-4zM163.7 299.4h4v4h-4zM167 279.5h4v4h-4zM167 282.8h4v4h-4zM167 286.1h4v4h-4zM167 289.4h4v4h-4zM167 296.1h4v4h-4zM170.3 279.5h4v4h-4zM170.3 282.8h4v4h-4zM170.3 286.1h4v4h-4zM170.3 289.4h4v4h-4zM170.3 292.7h4v4h-4zM170.3 296.1h4v4h-4zM170.3 299.4h4v4h-4zM173.6 279.5h4v4h-4zM173.6 282.8h4v4h-4zM173.6 286.1h4v4h-4zM173.6 289.4h4v4h-4zM173.6 296.1h4v4h-4zM173.6 299.4h4v4h-4zM176.9 279.5h4v4h-4zM176.9 282.8h4v4h-4zM176.9 286.1h4v4h-4zM176.9 289.4h4v4h-4zM176.9 292.7h4v4h-4zM176.9 296.1h4v4h-4zM176.9 299.4h4v4h-4zM180.2 279.5h4v4h-4zM180.2 282.8h4v4h-4zM180.2 289.4h4v4h-4zM180.2 296.1h4v4h-4zM180.2 299.4h4v4h-4zM183.5 279.5h4v4h-4zM183.5 282.8h4v4h-4zM183.5 286.1h4v4h-4zM183.5 289.4h4v4h-4zM183.5 296.1h4v4h-4zM183.5 299.4h4v4h-4zM186.9 282.8h4v4h-4zM186.9 289.4h4v4h-4zM186.9 292.7h4v4h-4zM186.9 296.1h4v4h-4zM186.9 299.4h4v4h-4zM299.6 253h4v4h-4zM299.6 272.8h4v4h-4zM299.6 276.2h4v4h-4zM302.9 269.5h4v4h-4zM302.9 276.2h4v4h-4zM306.2 272.8h4v4h-4z"/><path fill="#ffc800" d="M233.3 292.7h4v4h-4zM233.3 296.1h4v4h-4zM233.3 299.4h4v4h-4zM236.6 292.7h4v4h-4zM236.6 296.1h4v4h-4zM236.6 299.4h4v4h-4zM239.9 292.7h4v4h-4zM239.9 296.1h4v4h-4zM239.9 299.4h4v4h-4z"/><path fill="#c0f000" d="M292.9 193.3h4v4h-4zM292.9 196.6h4v4h-4zM292.9 199.9h4v4h-4zM296.2 190h4v4h-4zM296.2 193.3h4v4h-4zM296.2 196.6h4v4h-4zM299.6 190h4v4h-4zM299.6 193.3h4v4h-4zM299.6 199.9h4v4h-4zM302.9 190h4v4h-4zM302.9 193.3h4v4h-4zM302.9 196.6h4v4h-4zM302.9 199.9h4v4h-4zM289.6 193.3h4v4h-4zM336 239.7h4v4h-4zM336 243h4v4h-4zM336 246.3h4v4h-4zM336 249.6h4v4h-4zM316.1 292.7h4v4h-4z"/><path fill="#ffe000" d="M279.7 206.5h4v4h-4zM299.6 219.8h4v4h-4zM299.6 223.1h4v4h-4zM299.6 226.4h4v4h-4zM302.9 219.8h4v4h-4zM302.9 223.1h4v4h-4zM302.9 226.4h4v4h-4zM306.2 219.8h4v4h-4zM306.2 223.1h4v4h-4zM306.2 226.4h4v4h-4zM309.5 219.8h4v4h-4zM309.5 223.1h4v4h-4zM309.5 226.4h4v4h-4zM312.8 233.1h4v4h-4zM312.8 243h4v4h-4zM312.8 253h4v4h-4zM316.1 243h4v4h-4zM316.1 246.3h4v4h-4zM316.1 256.3h4v4h-4zM319.5 236.4h4v4h-4zM319.5 239.7h4v4h-4zM319.5 243h4v4h-4zM322.8 233.1h4v4h-4zM322.8 243h4v4h-4zM322.8 249.6h4v4h-4zM322.8 259.6h4v4h-4zM319.5 269.5h4v4h-4z"/><path fill="#ffa800" d="M286.3 216.5h4v4h-4zM286.3 219.8h4v4h-4zM286.3 223.1h4v4h-4zM286.3 226.4h4v4h-4zM289.6 216.5h4v4h-4zM289.6 219.8h4v4h-4zM289.6 223.1h4v4h-4zM292.9 213.2h4v4h-4zM292.9 216.5h4v4h-4zM292.9 219.8h4v4h-4zM292.9 223.1h4v4h-4zM292.9 226.4h4v4h-4zM296.2 213.2h4v4h-4zM296.2 216.5h4v4h-4zM296.2 219.8h4v4h-4zM296.2 223.1h4v4h-4zM296.2 226.4h4v4h-4zM299.6 213.2h4v4h-4zM299.6 219.8h4v4h-4zM299.6 223.1h4v4h-4zM299.6 226.4h4v4h-4zM299.6 233.1h4v4h-4zM299.6 239.7h4v4h-4zM299.6 243h4v4h-4zM299.6 249.6h4v4h-4zM299.6 253h4v4h-4zM302.9 236.4h4v4h-4zM302.9 239.7h4v4h-4zM302.9 243h4v4h-4zM302.9 249.6h4v4h-4zM302.9 253h4v4h-4zM306.2 233.1h4v4h-4zM306.2 236.4h4v4h-4zM306.2 239.7h4v4h-4zM306.2 243h4v4h-4zM306.2 246.3h4v4h-4zM306.2 249.6h4v4h-4zM309.5 236.4h4v4h-4zM309.5 239.7h4v4h-4zM309.5 246.3h4v4h-4zM309.5 253h4v4h-4z"/><path fill="#ff5000" d="M276.4 223.1h4v4h-4zM276.4 226.4h4v4h-4zM276.4 229.7h4v4h-4zM276.4 233.1h4v4h-4zM276.4 236.4h4v4h-4zM279.7 223.1h4v4h-4zM279.7 229.7h4v4h-4zM279.7 233.1h4v4h-4zM279.7 236.4h4v4h-4zM283 223.1h4v4h-4zM283 229.7h4v4h-4zM283 233.1h4v4h-4zM283 236.4h4v4h-4zM286.3 223.1h4v4h-4zM286.3 226.4h4v4h-4zM286.3 229.7h4v4h-4zM286.3 233.1h4v4h-4zM286.3 236.4h4v4h-4zM289.6 223.1h4v4h-4zM289.6 229.7h4v4h-4zM289.6 233.1h4v4h-4zM289.6 236.4h4v4h-4z"/><path fill="#fff000" d="M306.2 209.9h4v4h-4zM306.2 219.8h4v4h-4zM306.2 223.1h4v4h-4zM306.2 226.4h4v4h-4zM309.5 206.5h4v4h-4zM309.5 209.9h4v4h-4zM309.5 216.5h4v4h-4zM309.5 226.4h4v4h-4zM312.8 209.9h4v4h-4zM312.8 216.5h4v4h-4zM312.8 219.8h4v4h-4zM312.8 226.4h4v4h-4zM316.1 206.5h4v4h-4zM316.1 209.9h4v4h-4zM316.1 216.5h4v4h-4zM316.1 223.1h4v4h-4zM316.1 226.4h4v4h-4zM319.5 209.9h4v4h-4zM319.5 213.2h4v4h-4zM319.5 216.5h4v4h-4zM319.5 219.8h4v4h-4zM319.5 226.4h4v4h-4zM322.8 206.5h4v4h-4zM322.8 209.9h4v4h-4zM322.8 213.2h4v4h-4zM322.8 216.5h4v4h-4zM322.8 223.1h4v4h-4zM322.8 226.4h4v4h-4z"/><path fill="#e0f000" d="M322.8 213.2h4v4h-4zM322.8 216.5h4v4h-4zM322.8 219.8h4v4h-4zM326.1 213.2h4v4h-4zM326.1 219.8h4v4h-4zM329.4 216.5h4v4h-4zM329.4 219.8h4v4h-4z"/><path fill="#e8f000" d="M319.5 243h4v4h-4zM322.8 243h4v4h-4zM326.1 243h4v4h-4zM329.4 243h4v4h-4z"/><path fill="#e00000" d="M246.5 226.4h4v4h-4zM246.5 239.7h4v4h-4zM246.5 246.3h4v4h-4zM249.8 229.7h4v4h-4zM249.8 243h4v4h-4zM249.8 249.6h4v4h-4zM253.2 226.4h4v4h-4zM253.2 249.6h4v4h-4zM259.8 236.4h4v4h-4zM259.8 239.7h4v4h-4z"/><path fill="#ff3000" d="M253.2 219.8h4v4h-4z"/><path fill="#ff2000" d="M286.3 249.6h4v4h-4zM286.3 253h4v4h-4z"/><path fill="#f00000" d="M253.2 259.6h4v4h-4zM256.5 262.9h4v4h-4zM253.2 272.8h4v4h-4zM263.1 279.5h4v4h-4z"/><path fill="#d0f000" d="M302.9 289.4h4v4h-4z"/><path fill="#a8f020" d="M322.8 292.7h4v4h-4zM322.8 299.4h4v4h-4zM322.8 302.7h4v4h-4zM326.1 292.7h4v4h-4zM326.1 299.4h4v4h-4zM326.1 302.7h4v4h-4zM329.4 296.1h4v4h-4zM329.4 299.4h4v4h-4zM329.4 302.7h4v4h-4z"/><path fill="#90f030" d="M332.7 292.7h4v4h-4zM332.7 296.1h4v4h-4zM332.7 299.4h4v4h-4zM332.7 302.7h4v4h-4zM332.7 306h4v4h-4zM332.7 309.3h4v4h-4zM332.7 312.6h4v4h-4z"/><path fill="#60f050" d="M355.9 276.2h4v4h-4zM355.9 279.5h4v4h-4zM355.9 282.8h4v4h-4zM355.9 289.4h4v4h-4zM355.9 292.7h4v4h-4zM355.9 296.1h4v4h-4zM359.2 276.2h4v4h-4zM359.2 279.5h4v4h-4zM359.2 282.8h4v4h-4zM359.2 286.1h4v4h-4zM359.2 289.4h4v4h-4zM359.2 292.7h4v4h-4zM359.2 296.1h4v4h-4zM359.2 299.4h4v4h-4zM362.5 276.2h4v4h-4zM362.5 292.7h4v4h-4zM362.5 299.4h4v4h-4z"/><path fill="#50f060" d="M359.2 302.7h4v4h-4zM359.2 306h4v4h-4zM359.2 309.3h4v4h-4zM362.5 302.7h4v4h-4zM362.5 306h4v4h-4zM362.5 309.3h4v4h-4zM365.9 302.7h4v4h-4zM365.9 306h4v4h-4zM365.9 309.3h4v4h-4z"/></g>
<rect x="8.5" y="23.5" width="51.4" height="79.4" fill="#fff"/>
<path d="M34.6 38.4L10.4 101.5L34.6 77.4Z" fill="#6e6e6e"/><path d="M34.6 38.4L58.8 101.5L34.6 77.4Z" fill="#8c8c8c"/>
<path d="M34.6 38.4L10.4 101.5L34.6 77.4L58.8 101.5Z" fill="none" stroke="#000" stroke-width="2.5" stroke-linejoin="miter" stroke-miterlimit="10"/>
<path d="M28.9 38.6V23.8L39.1 38.6V23.8" fill="none" stroke="#8a8a8a" stroke-width="1.6" stroke-linejoin="bevel"/>
<rect x="129" y="468.9" width="65.1" height="5.2" fill="#000" stroke="#000" stroke-width="0.8"/>
<rect x="194.1" y="468.9" width="65.1" height="5.2" fill="#fff" stroke="#9a9a9a" stroke-width="0.8"/>
<rect x="259.2" y="468.9" width="65.1" height="5.2" fill="#000" stroke="#000" stroke-width="0.8"/>
<rect x="324.3" y="468.9" width="65.1" height="5.2" fill="#fff" stroke="#9a9a9a" stroke-width="0.8"/>
<text x="129" y="464.5" text-anchor="middle" style="font-family:'Liberation Serif',serif;font-size:14.2px" fill="#2a2a2a">0</text>
<text x="194.1" y="464.5" text-anchor="middle" style="font-family:'Liberation Serif',serif;font-size:14.2px" fill="#2a2a2a" textLength="30.6" lengthAdjust="spacingAndGlyphs">2.000</text>
<text x="259.2" y="464.5" text-anchor="middle" style="font-family:'Liberation Serif',serif;font-size:14.2px" fill="#2a2a2a" textLength="30.6" lengthAdjust="spacingAndGlyphs">4.000</text>
<text x="324.3" y="464.5" text-anchor="middle" style="font-family:'Liberation Serif',serif;font-size:14.2px" fill="#2a2a2a" textLength="30.6" lengthAdjust="spacingAndGlyphs">6.000</text>
<text x="389.4" y="464.5" text-anchor="middle" style="font-family:'Liberation Serif',serif;font-size:14.2px" fill="#2a2a2a" textLength="30.6" lengthAdjust="spacingAndGlyphs">8.000</text>
<text x="408" y="464.5" style="font-family:'Liberation Serif',serif;font-size:14.2px" fill="#2a2a2a">m</text>
</g>
<text x="293.1" y="637.9" text-anchor="middle" style="font-family:'Liberation Sans',sans-serif;font-weight:bold;font-size:16.8px" fill="#000" textLength="276.6" lengthAdjust="spacingAndGlyphs">Linear rate of Vertical displacement</text>
<text x="116.5" y="1153.2" text-anchor="middle" style="font-family:'Liberation Sans',sans-serif;font-size:14px" fill="#484848" textLength="56.5" lengthAdjust="spacingAndGlyphs">2,562,000</text>
<text transform="translate(42.7,709.3) rotate(-90)" text-anchor="middle" style="font-family:'Liberation Sans',sans-serif;font-size:14px" fill="#484848" textLength="54.5" lengthAdjust="spacingAndGlyphs">5,788,000</text>
<text x="247" y="1153.2" text-anchor="middle" style="font-family:'Liberation Sans',sans-serif;font-size:14px" fill="#484848" textLength="56.5" lengthAdjust="spacingAndGlyphs">2,566,000</text>
<text transform="translate(42.7,839.9) rotate(-90)" text-anchor="middle" style="font-family:'Liberation Sans',sans-serif;font-size:14px" fill="#484848" textLength="54.5" lengthAdjust="spacingAndGlyphs">5,784,000</text>
<text x="377.5" y="1153.2" text-anchor="middle" style="font-family:'Liberation Sans',sans-serif;font-size:14px" fill="#484848" textLength="56.5" lengthAdjust="spacingAndGlyphs">2,570,000</text>
<text transform="translate(42.7,970.5) rotate(-90)" text-anchor="middle" style="font-family:'Liberation Sans',sans-serif;font-size:14px" fill="#484848" textLength="54.5" lengthAdjust="spacingAndGlyphs">5,780,000</text>
<text x="508" y="1153.2" text-anchor="middle" style="font-family:'Liberation Sans',sans-serif;font-size:14px" fill="#484848" textLength="56.5" lengthAdjust="spacingAndGlyphs">2,574,000</text>
<text transform="translate(42.7,1101.1) rotate(-90)" text-anchor="middle" style="font-family:'Liberation Sans',sans-serif;font-size:14px" fill="#484848" textLength="54.5" lengthAdjust="spacingAndGlyphs">5,776,000</text>
<text x="293.1" y="1176.3" text-anchor="middle" style="font-family:'Liberation Sans',sans-serif;font-size:16.8px" fill="#333" textLength="86.6" lengthAdjust="spacingAndGlyphs">Easting (m)</text>
<text transform="translate(21.2,891.1) rotate(-90)" text-anchor="middle" style="font-family:'Liberation Sans',sans-serif;font-size:17.4px" fill="#333" textLength="98.5" lengthAdjust="spacingAndGlyphs">Northing (m)</text>
<rect x="542.3" y="647.4" width="11.4" height="487.5" fill="url(#cbA)" stroke="#555" stroke-width="0.9"/>
<text x="559" y="653.6" style="font-family:'Liberation Sans',sans-serif;font-size:17px" fill="#222">5</text>
<text x="559" y="734.9" style="font-family:'Liberation Sans',sans-serif;font-size:17px" fill="#222">0</text>
<text x="559" y="816.1" style="font-family:'Liberation Sans',sans-serif;font-size:17px" fill="#222">-5</text>
<text x="559" y="897.4" style="font-family:'Liberation Sans',sans-serif;font-size:17px" fill="#222">-10</text>
<text x="559" y="978.6" style="font-family:'Liberation Sans',sans-serif;font-size:17px" fill="#222">-15</text>
<text x="559" y="1059.9" style="font-family:'Liberation Sans',sans-serif;font-size:17px" fill="#222">-20</text>
<text x="559" y="1141.1" style="font-family:'Liberation Sans',sans-serif;font-size:17px" fill="#222">-25</text>
<path d="M549.7 728.6h4M549.7 809.9h4M549.7 891.1h4M549.7 972.4h4M549.7 1053.7h4" stroke="#222" stroke-width="1"/>
<text transform="translate(603.4,891.1) rotate(-90)" text-anchor="middle" style="font-family:'Liberation Sans',sans-serif;font-size:18px" fill="#333" textLength="44.8" lengthAdjust="spacingAndGlyphs">mm/y</text>
<text x="307.7" y="1222.2" text-anchor="middle" style="font-family:'Liberation Serif',serif;font-weight:bold;font-size:29px" fill="#000" textLength="33.5" lengthAdjust="spacingAndGlyphs">(c)</text>
<g transform="translate(695.9,647.4)">
<rect x="0" y="0" width="485.7" height="487.4" fill="none" stroke="#8c8c8c" stroke-width="1.1"/>
<path d="M64.3 487.4v-4.5M64.3 0v4.5M0 64.4h4.5M485.7 64.4h-4.5M194.8 487.4v-4.5M194.8 0v4.5M0 195h4.5M485.7 195h-4.5M325.3 487.4v-4.5M325.3 0v4.5M0 325.6h4.5M485.7 325.6h-4.5M455.8 487.4v-4.5M455.8 0v4.5M0 456.2h4.5M485.7 456.2h-4.5" stroke="#8c8c8c" stroke-width="1.1" fill="none"/>
<g mask="url(#mk)"><rect x="-8" y="-8" width="505" height="505" fill="#20ea88"/><linearGradient id="lgvd1" x1="0" y1="0" x2="0" y2="1"><stop offset="0" stop-color="#30f068"/><stop offset="0.3" stop-color="#58f058"/><stop offset="0.5" stop-color="#90ec38"/><stop offset="0.75" stop-color="#b4f020"/><stop offset="1" stop-color="#c0f000"/></linearGradient><rect x="-10.2" y="-13.4" width="165" height="245" fill="url(#lgvd1)" filter="url(#bl8)"/><ellipse cx="169.8" cy="161.6" rx="60" ry="32" fill="#d8f000" filter="url(#bl10)"/><ellipse cx="184.8" cy="118.6" rx="65" ry="16" fill="#88f038" filter="url(#bl8)"/><rect x="139.8" y="26.6" width="100" height="120" fill="#58e860" filter="url(#bl20)"/><rect x="279.8" y="-3.4" width="220" height="150" fill="#00e8c8" filter="url(#bl25)"/><rect x="319.8" y="141.6" width="150" height="30" fill="#00e0e0" filter="url(#bl10)"/><ellipse cx="379.8" cy="188.6" rx="50" ry="22" fill="#00b0f0" filter="url(#bl12)"/><ellipse cx="394.8" cy="231.6" rx="35" ry="28" fill="#0088f0" filter="url(#bl12)"/><ellipse cx="427.8" cy="238.6" rx="16" ry="24" fill="#00d0f0" filter="url(#bl8)"/><ellipse cx="354.8" cy="224.6" rx="18" ry="22" fill="#0038e0" filter="url(#bl6)"/><ellipse cx="324.8" cy="191.6" rx="18" ry="25" fill="#00c0f0" filter="url(#bl10)"/><ellipse cx="359.8" cy="284.6" rx="8" ry="22" fill="#0050f0" filter="url(#bl5)"/><ellipse cx="333.8" cy="302.6" rx="12" ry="16" fill="#0040e0" filter="url(#bl4)"/><ellipse cx="352.8" cy="259.6" rx="16" ry="20" fill="#0030e0" filter="url(#bl5)"/><ellipse cx="299.8" cy="190.6" rx="8" ry="16" fill="#00b0f0" filter="url(#bl4)"/><ellipse cx="319.8" cy="318.6" rx="12" ry="12" fill="#00d8f0" filter="url(#bl6)"/><ellipse cx="289.8" cy="161.6" rx="25" ry="12" fill="#00e0d0" filter="url(#bl6)"/><ellipse cx="439.8" cy="356.6" rx="60" ry="110" fill="#00e0e8" filter="url(#bl25)"/><ellipse cx="254.8" cy="256.6" rx="14" ry="50" fill="#00e0e8" filter="url(#bl8)"/><ellipse cx="64.8" cy="286.6" rx="75" ry="75" fill="#ffd000" filter="url(#bl22)"/><ellipse cx="79.8" cy="406.6" rx="55" ry="50" fill="#60e850" filter="url(#bl18)"/><ellipse cx="249.8" cy="416.6" rx="70" ry="30" fill="#20e890" filter="url(#bl10)"/><path fill="#ff9000" d="M130.5 206.5h4v4h-4zM130.5 209.9h4v4h-4zM130.5 213.2h4v4h-4zM130.5 216.5h4v4h-4zM133.8 206.5h4v4h-4zM133.8 209.9h4v4h-4zM133.8 213.2h4v4h-4zM210.1 216.5h4v4h-4zM210.1 219.8h4v4h-4zM210.1 223.1h4v4h-4zM213.4 216.5h4v4h-4zM213.4 219.8h4v4h-4zM213.4 223.1h4v4h-4zM163.7 279.5h4v4h-4zM163.7 282.8h4v4h-4zM163.7 286.1h4v4h-4zM163.7 292.7h4v4h-4zM163.7 296.1h4v4h-4zM163.7 299.4h4v4h-4zM167 279.5h4v4h-4zM167 282.8h4v4h-4zM167 286.1h4v4h-4zM167 289.4h4v4h-4zM167 296.1h4v4h-4zM170.3 279.5h4v4h-4zM170.3 282.8h4v4h-4zM170.3 286.1h4v4h-4zM170.3 289.4h4v4h-4zM170.3 292.7h4v4h-4zM170.3 296.1h4v4h-4zM170.3 299.4h4v4h-4zM173.6 279.5h4v4h-4zM173.6 282.8h4v4h-4zM173.6 286.1h4v4h-4zM173.6 289.4h4v4h-4zM173.6 296.1h4v4h-4zM173.6 299.4h4v4h-4zM176.9 279.5h4v4h-4zM176.9 282.8h4v4h-4zM176.9 286.1h4v4h-4zM176.9 289.4h4v4h-4zM176.9 292.7h4v4h-4zM176.9 296.1h4v4h-4zM176.9 299.4h4v4h-4zM180.2 279.5h4v4h-4zM180.2 282.8h4v4h-4zM180.2 289.4h4v4h-4zM180.2 296.1h4v4h-4zM180.2 299.4h4v4h-4zM183.5 279.5h4v4h-4zM183.5 282.8h4v4h-4zM183.5 286.1h4v4h-4zM183.5 289.4h4v4h-4zM183.5 296.1h4v4h-4zM183.5 299.4h4v4h-4zM186.9 282.8h4v4h-4zM186.9 289.4h4v4h-4zM186.9 292.7h4v4h-4zM186.9 296.1h4v4h-4zM186.9 299.4h4v4h-4z"/><path fill="#ff8000" d="M150.4 209.9h4v4h-4zM150.4 213.2h4v4h-4zM150.4 216.5h4v4h-4zM150.4 219.8h4v4h-4zM150.4 223.1h4v4h-4zM153.7 209.9h4v4h-4zM153.7 213.2h4v4h-4zM153.7 216.5h4v4h-4zM153.7 219.8h4v4h-4zM153.7 223.1h4v4h-4zM216.7 253h4v4h-4zM216.7 269.5h4v4h-4zM216.7 272.8h4v4h-4zM193.5 292.7h4v4h-4z"/><path fill="#f02010" d="M163.7 219.8h4v4h-4zM163.7 223.1h4v4h-4zM163.7 229.7h4v4h-4zM167 219.8h4v4h-4zM167 223.1h4v4h-4zM167 226.4h4v4h-4zM170.3 219.8h4v4h-4zM170.3 223.1h4v4h-4zM170.3 229.7h4v4h-4zM193.5 223.1h4v4h-4zM193.5 226.4h4v4h-4zM193.5 229.7h4v4h-4zM196.8 223.1h4v4h-4zM196.8 226.4h4v4h-4zM196.8 229.7h4v4h-4z"/><path fill="#f03010" d="M167 243h4v4h-4zM167 246.3h4v4h-4zM167 249.6h4v4h-4zM206.7 276.2h4v4h-4zM206.7 279.5h4v4h-4zM206.7 282.8h4v4h-4zM206.7 286.1h4v4h-4z"/><path fill="#ffb000" d="M216.7 203.2h4v4h-4zM216.7 206.5h4v4h-4zM216.7 209.9h4v4h-4zM216.7 213.2h4v4h-4zM220 203.2h4v4h-4zM220 206.5h4v4h-4zM220 209.9h4v4h-4zM220 213.2h4v4h-4zM223.3 203.2h4v4h-4zM223.3 206.5h4v4h-4zM223.3 209.9h4v4h-4zM223.3 213.2h4v4h-4z"/><path fill="#ffa000" d="M223.3 193.3h4v4h-4zM226.6 223.1h4v4h-4z"/><path fill="#c0e820" d="M236.6 209.9h4v4h-4zM236.6 216.5h4v4h-4zM239.9 209.9h4v4h-4zM239.9 213.2h4v4h-4zM243.2 209.9h4v4h-4zM243.2 213.2h4v4h-4zM243.2 216.5h4v4h-4zM246.5 209.9h4v4h-4zM229.9 243h4v4h-4zM229.9 246.3h4v4h-4zM233.3 253h4v4h-4z"/><path fill="#a0e830" d="M229.9 223.1h4v4h-4zM229.9 226.4h4v4h-4zM229.9 229.7h4v4h-4zM229.9 236.4h4v4h-4zM229.9 239.7h4v4h-4zM229.9 243h4v4h-4zM233.3 223.1h4v4h-4zM233.3 229.7h4v4h-4zM233.3 233.1h4v4h-4zM233.3 243h4v4h-4zM236.6 223.1h4v4h-4zM236.6 226.4h4v4h-4zM236.6 229.7h4v4h-4zM236.6 233.1h4v4h-4zM236.6 236.4h4v4h-4zM236.6 239.7h4v4h-4zM236.6 243h4v4h-4zM239.9 223.1h4v4h-4zM239.9 226.4h4v4h-4zM239.9 229.7h4v4h-4zM239.9 233.1h4v4h-4zM239.9 236.4h4v4h-4zM239.9 239.7h4v4h-4zM239.9 243h4v4h-4zM243.2 223.1h4v4h-4zM243.2 229.7h4v4h-4zM243.2 233.1h4v4h-4zM243.2 236.4h4v4h-4zM243.2 239.7h4v4h-4zM243.2 243h4v4h-4zM246.5 223.1h4v4h-4zM246.5 226.4h4v4h-4zM246.5 239.7h4v4h-4zM246.5 243h4v4h-4zM249.8 223.1h4v4h-4zM249.8 226.4h4v4h-4zM249.8 243h4v4h-4zM239.9 259.6h4v4h-4zM239.9 269.5h4v4h-4z"/><path fill="#ff6000" d="M206.7 239.7h4v4h-4z"/><path fill="#ffc000" d="M223.3 236.4h4v4h-4z"/><path fill="#e0e000" d="M226.6 233.1h4v4h-4zM233.3 292.7h4v4h-4zM233.3 296.1h4v4h-4zM233.3 299.4h4v4h-4zM236.6 292.7h4v4h-4zM236.6 296.1h4v4h-4zM236.6 299.4h4v4h-4zM239.9 292.7h4v4h-4zM239.9 296.1h4v4h-4zM239.9 299.4h4v4h-4z"/><path fill="#00e0f0" d="M249.8 249.6h4v4h-4zM249.8 296.1h4v4h-4z"/><path fill="#e01010" d="M196.8 269.5h4v4h-4zM196.8 272.8h4v4h-4zM200.1 266.2h4v4h-4zM200.1 272.8h4v4h-4zM203.4 266.2h4v4h-4zM203.4 269.5h4v4h-4zM203.4 272.8h4v4h-4zM206.7 266.2h4v4h-4zM206.7 272.8h4v4h-4z"/><path fill="#00c0f0" d="M292.9 193.3h4v4h-4zM292.9 196.6h4v4h-4zM292.9 199.9h4v4h-4zM296.2 190h4v4h-4zM296.2 193.3h4v4h-4zM296.2 196.6h4v4h-4zM299.6 190h4v4h-4zM299.6 193.3h4v4h-4zM299.6 199.9h4v4h-4zM302.9 190h4v4h-4zM302.9 193.3h4v4h-4zM302.9 196.6h4v4h-4zM302.9 199.9h4v4h-4zM289.6 193.3h4v4h-4zM253.2 259.6h4v4h-4zM256.5 262.9h4v4h-4z"/><path fill="#00c8f0" d="M279.7 206.5h4v4h-4z"/><path fill="#0040e0" d="M286.3 216.5h4v4h-4zM286.3 219.8h4v4h-4zM286.3 223.1h4v4h-4zM286.3 226.4h4v4h-4zM289.6 216.5h4v4h-4zM289.6 219.8h4v4h-4zM289.6 223.1h4v4h-4zM292.9 213.2h4v4h-4zM292.9 216.5h4v4h-4zM292.9 219.8h4v4h-4zM292.9 223.1h4v4h-4zM292.9 226.4h4v4h-4zM296.2 213.2h4v4h-4zM296.2 216.5h4v4h-4zM296.2 219.8h4v4h-4zM296.2 223.1h4v4h-4zM296.2 226.4h4v4h-4zM299.6 213.2h4v4h-4zM299.6 219.8h4v4h-4zM299.6 223.1h4v4h-4zM299.6 226.4h4v4h-4zM276.4 223.1h4v4h-4zM276.4 226.4h4v4h-4zM276.4 229.7h4v4h-4zM276.4 233.1h4v4h-4zM276.4 236.4h4v4h-4zM279.7 223.1h4v4h-4zM279.7 229.7h4v4h-4zM279.7 233.1h4v4h-4zM279.7 236.4h4v4h-4zM283 223.1h4v4h-4zM283 229.7h4v4h-4zM283 233.1h4v4h-4zM283 236.4h4v4h-4zM286.3 223.1h4v4h-4zM286.3 226.4h4v4h-4zM286.3 229.7h4v4h-4zM286.3 233.1h4v4h-4zM286.3 236.4h4v4h-4zM289.6 223.1h4v4h-4zM289.6 229.7h4v4h-4zM289.6 233.1h4v4h-4zM289.6 236.4h4v4h-4zM276.4 272.8h4v4h-4zM276.4 276.2h4v4h-4zM276.4 279.5h4v4h-4zM276.4 286.1h4v4h-4zM279.7 269.5h4v4h-4zM279.7 272.8h4v4h-4zM279.7 276.2h4v4h-4zM279.7 279.5h4v4h-4zM279.7 282.8h4v4h-4zM279.7 286.1h4v4h-4zM283 269.5h4v4h-4zM283 272.8h4v4h-4zM283 276.2h4v4h-4zM283 279.5h4v4h-4zM283 282.8h4v4h-4zM283 286.1h4v4h-4zM286.3 269.5h4v4h-4zM286.3 272.8h4v4h-4zM286.3 276.2h4v4h-4zM286.3 279.5h4v4h-4zM286.3 282.8h4v4h-4zM286.3 286.1h4v4h-4zM326.1 282.8h4v4h-4zM326.1 286.1h4v4h-4zM329.4 272.8h4v4h-4zM329.4 279.5h4v4h-4zM329.4 282.8h4v4h-4zM329.4 286.1h4v4h-4zM332.7 272.8h4v4h-4zM332.7 276.2h4v4h-4zM332.7 279.5h4v4h-4zM332.7 286.1h4v4h-4zM336 272.8h4v4h-4zM339.3 272.8h4v4h-4zM339.3 286.1h4v4h-4zM342.7 276.2h4v4h-4zM322.8 292.7h4v4h-4zM322.8 299.4h4v4h-4zM322.8 302.7h4v4h-4zM326.1 292.7h4v4h-4zM326.1 299.4h4v4h-4zM326.1 302.7h4v4h-4zM329.4 296.1h4v4h-4zM329.4 299.4h4v4h-4zM329.4 302.7h4v4h-4z"/><path fill="#0030d0" d="M299.6 219.8h4v4h-4zM299.6 223.1h4v4h-4zM299.6 226.4h4v4h-4zM302.9 219.8h4v4h-4zM302.9 223.1h4v4h-4zM302.9 226.4h4v4h-4zM306.2 219.8h4v4h-4zM306.2 223.1h4v4h-4zM306.2 226.4h4v4h-4zM309.5 219.8h4v4h-4zM309.5 223.1h4v4h-4zM309.5 226.4h4v4h-4zM319.5 243h4v4h-4zM322.8 243h4v4h-4zM326.1 243h4v4h-4zM329.4 243h4v4h-4zM276.4 249.6h4v4h-4zM286.3 249.6h4v4h-4zM286.3 253h4v4h-4zM299.6 253h4v4h-4zM299.6 272.8h4v4h-4zM299.6 276.2h4v4h-4zM302.9 269.5h4v4h-4zM302.9 276.2h4v4h-4zM306.2 272.8h4v4h-4zM319.5 269.5h4v4h-4z"/><path fill="#0050e8" d="M306.2 209.9h4v4h-4zM306.2 219.8h4v4h-4zM306.2 223.1h4v4h-4zM306.2 226.4h4v4h-4zM309.5 206.5h4v4h-4zM309.5 209.9h4v4h-4zM309.5 216.5h4v4h-4zM309.5 226.4h4v4h-4zM312.8 209.9h4v4h-4zM312.8 216.5h4v4h-4zM312.8 219.8h4v4h-4zM312.8 226.4h4v4h-4zM316.1 206.5h4v4h-4zM316.1 209.9h4v4h-4zM316.1 216.5h4v4h-4zM316.1 223.1h4v4h-4zM316.1 226.4h4v4h-4zM319.5 209.9h4v4h-4zM319.5 213.2h4v4h-4zM319.5 216.5h4v4h-4zM319.5 219.8h4v4h-4zM319.5 226.4h4v4h-4zM322.8 206.5h4v4h-4zM322.8 209.9h4v4h-4zM322.8 213.2h4v4h-4zM322.8 216.5h4v4h-4zM322.8 223.1h4v4h-4zM322.8 226.4h4v4h-4zM322.8 213.2h4v4h-4zM322.8 216.5h4v4h-4zM322.8 219.8h4v4h-4zM326.1 213.2h4v4h-4zM326.1 219.8h4v4h-4zM329.4 216.5h4v4h-4zM329.4 219.8h4v4h-4z"/><path fill="#0010b0" d="M299.6 233.1h4v4h-4zM299.6 239.7h4v4h-4zM299.6 243h4v4h-4zM299.6 249.6h4v4h-4zM299.6 253h4v4h-4zM302.9 236.4h4v4h-4zM302.9 239.7h4v4h-4zM302.9 243h4v4h-4zM302.9 249.6h4v4h-4zM302.9 253h4v4h-4zM306.2 233.1h4v4h-4zM306.2 236.4h4v4h-4zM306.2 239.7h4v4h-4zM306.2 243h4v4h-4zM306.2 246.3h4v4h-4zM306.2 249.6h4v4h-4zM309.5 236.4h4v4h-4zM309.5 239.7h4v4h-4zM309.5 246.3h4v4h-4zM309.5 253h4v4h-4z"/><path fill="#0020c0" d="M312.8 233.1h4v4h-4zM312.8 243h4v4h-4zM312.8 253h4v4h-4zM316.1 243h4v4h-4zM316.1 246.3h4v4h-4zM316.1 256.3h4v4h-4zM319.5 236.4h4v4h-4zM319.5 239.7h4v4h-4zM319.5 243h4v4h-4zM322.8 233.1h4v4h-4zM322.8 243h4v4h-4zM322.8 249.6h4v4h-4zM322.8 259.6h4v4h-4zM292.9 233.1h4v4h-4zM296.2 243h4v4h-4zM292.9 246.3h4v4h-4z"/><path fill="#0030e0" d="M336 239.7h4v4h-4zM336 243h4v4h-4zM336 246.3h4v4h-4zM336 249.6h4v4h-4z"/><path fill="#00d8f0" d="M246.5 226.4h4v4h-4zM246.5 239.7h4v4h-4zM246.5 246.3h4v4h-4zM249.8 229.7h4v4h-4zM249.8 243h4v4h-4zM249.8 249.6h4v4h-4zM253.2 226.4h4v4h-4zM253.2 249.6h4v4h-4zM259.8 236.4h4v4h-4zM259.8 239.7h4v4h-4z"/><path fill="#00d0f0" d="M253.2 219.8h4v4h-4zM253.2 272.8h4v4h-4zM263.1 279.5h4v4h-4zM253.2 282.8h4v4h-4z"/><path fill="#00b0f0" d="M269.7 266.2h4v4h-4z"/><path fill="#0050e0" d="M302.9 289.4h4v4h-4zM316.1 292.7h4v4h-4zM355.9 276.2h4v4h-4zM355.9 279.5h4v4h-4zM355.9 282.8h4v4h-4zM355.9 289.4h4v4h-4zM355.9 292.7h4v4h-4zM355.9 296.1h4v4h-4zM359.2 276.2h4v4h-4zM359.2 279.5h4v4h-4zM359.2 282.8h4v4h-4zM359.2 286.1h4v4h-4zM359.2 289.4h4v4h-4zM359.2 292.7h4v4h-4zM359.2 296.1h4v4h-4zM359.2 299.4h4v4h-4zM362.5 276.2h4v4h-4zM362.5 292.7h4v4h-4zM362.5 299.4h4v4h-4z"/><path fill="#0060e8" d="M332.7 292.7h4v4h-4zM332.7 296.1h4v4h-4zM332.7 299.4h4v4h-4zM332.7 302.7h4v4h-4zM332.7 306h4v4h-4zM332.7 309.3h4v4h-4zM332.7 312.6h4v4h-4zM359.2 302.7h4v4h-4zM359.2 306h4v4h-4zM359.2 309.3h4v4h-4zM362.5 302.7h4v4h-4zM362.5 306h4v4h-4zM362.5 309.3h4v4h-4zM365.9 302.7h4v4h-4zM365.9 306h4v4h-4zM365.9 309.3h4v4h-4z"/></g>
<rect x="8.5" y="23.5" width="51.4" height="79.4" fill="#fff"/>
<path d="M34.6 38.4L10.4 101.5L34.6 77.4Z" fill="#6e6e6e"/><path d="M34.6 38.4L58.8 101.5L34.6 77.4Z" fill="#8c8c8c"/>
<path d="M34.6 38.4L10.4 101.5L34.6 77.4L58.8 101.5Z" fill="none" stroke="#000" stroke-width="2.5" stroke-linejoin="miter" stroke-miterlimit="10"/>
<path d="M28.9 38.6V23.8L39.1 38.6V23.8" fill="none" stroke="#8a8a8a" stroke-width="1.6" stroke-linejoin="bevel"/>
<rect x="129" y="468.9" width="65.1" height="5.2" fill="#000" stroke="#000" stroke-width="0.8"/>
<rect x="194.1" y="468.9" width="65.1" height="5.2" fill="#fff" stroke="#9a9a9a" stroke-width="0.8"/>
<rect x="259.2" y="468.9" width="65.1" height="5.2" fill="#000" stroke="#000" stroke-width="0.8"/>
<rect x="324.3" y="468.9" width="65.1" height="5.2" fill="#fff" stroke="#9a9a9a" stroke-width="0.8"/>
<text x="129" y="464.5" text-anchor="middle" style="font-family:'Liberation Serif',serif;font-size:14.2px" fill="#2a2a2a">0</text>
<text x="194.1" y="464.5" text-anchor="middle" style="font-family:'Liberation Serif',serif;font-size:14.2px" fill="#2a2a2a" textLength="30.6" lengthAdjust="spacingAndGlyphs">2.000</text>
<text x="259.2" y="464.5" text-anchor="middle" style="font-family:'Liberation Serif',serif;font-size:14.2px" fill="#2a2a2a" textLength="30.6" lengthAdjust="spacingAndGlyphs">4.000</text>
<text x="324.3" y="464.5" text-anchor="middle" style="font-family:'Liberation Serif',serif;font-size:14.2px" fill="#2a2a2a" textLength="30.6" lengthAdjust="spacingAndGlyphs">6.000</text>
<text x="389.4" y="464.5" text-anchor="middle" style="font-family:'Liberation Serif',serif;font-size:14.2px" fill="#2a2a2a" textLength="30.6" lengthAdjust="spacingAndGlyphs">8.000</text>
<text x="408" y="464.5" style="font-family:'Liberation Serif',serif;font-size:14.2px" fill="#2a2a2a">m</text>
</g>
<text x="938.8" y="637.9" text-anchor="middle" style="font-family:'Liberation Sans',sans-serif;font-weight:bold;font-size:16.8px" fill="#000" textLength="274" lengthAdjust="spacingAndGlyphs">Linear rate of East-West movement</text>
<text x="762.2" y="1153.1" text-anchor="middle" style="font-family:'Liberation Sans',sans-serif;font-size:14px" fill="#484848" textLength="56.5" lengthAdjust="spacingAndGlyphs">2,562,000</text>
<text transform="translate(688.4,709.3) rotate(-90)" text-anchor="middle" style="font-family:'Liberation Sans',sans-serif;font-size:14px" fill="#484848" textLength="54.5" lengthAdjust="spacingAndGlyphs">5,788,000</text>
<text x="892.7" y="1153.1" text-anchor="middle" style="font-family:'Liberation Sans',sans-serif;font-size:14px" fill="#484848" textLength="56.5" lengthAdjust="spacingAndGlyphs">2,566,000</text>
<text transform="translate(688.4,839.9) rotate(-90)" text-anchor="middle" style="font-family:'Liberation Sans',sans-serif;font-size:14px" fill="#484848" textLength="54.5" lengthAdjust="spacingAndGlyphs">5,784,000</text>
<text x="1023.2" y="1153.1" text-anchor="middle" style="font-family:'Liberation Sans',sans-serif;font-size:14px" fill="#484848" textLength="56.5" lengthAdjust="spacingAndGlyphs">2,570,000</text>
<text transform="translate(688.4,970.5) rotate(-90)" text-anchor="middle" style="font-family:'Liberation Sans',sans-serif;font-size:14px" fill="#484848" textLength="54.5" lengthAdjust="spacingAndGlyphs">5,780,000</text>
<text x="1153.7" y="1153.1" text-anchor="middle" style="font-family:'Liberation Sans',sans-serif;font-size:14px" fill="#484848" textLength="56.5" lengthAdjust="spacingAndGlyphs">2,574,000</text>
<text transform="translate(688.4,1101.1) rotate(-90)" text-anchor="middle" style="font-family:'Liberation Sans',sans-serif;font-size:14px" fill="#484848" textLength="54.5" lengthAdjust="spacingAndGlyphs">5,776,000</text>
<text x="938.8" y="1176.2" text-anchor="middle" style="font-family:'Liberation Sans',sans-serif;font-size:16.8px" fill="#333" textLength="86.6" lengthAdjust="spacingAndGlyphs">Easting (m)</text>
<text transform="translate(666.9,891.1) rotate(-90)" text-anchor="middle" style="font-family:'Liberation Sans',sans-serif;font-size:17.4px" fill="#333" textLength="98.5" lengthAdjust="spacingAndGlyphs">Northing (m)</text>
<rect x="1187.1" y="647.4" width="12.0" height="487.4" fill="url(#cbB)" stroke="#555" stroke-width="0.9"/>
<text x="1204.4" y="653.6" style="font-family:'Liberation Sans',sans-serif;font-size:17px" fill="#222">10</text>
<text x="1204.4" y="702.3" style="font-family:'Liberation Sans',sans-serif;font-size:17px" fill="#222">8</text>
<text x="1204.4" y="751.1" style="font-family:'Liberation Sans',sans-serif;font-size:17px" fill="#222">6</text>
<text x="1204.4" y="799.8" style="font-family:'Liberation Sans',sans-serif;font-size:17px" fill="#222">4</text>
<text x="1204.4" y="848.6" style="font-family:'Liberation Sans',sans-serif;font-size:17px" fill="#222">2</text>
<text x="1204.4" y="897.3" style="font-family:'Liberation Sans',sans-serif;font-size:17px" fill="#222">0</text>
<text x="1204.4" y="946" style="font-family:'Liberation Sans',sans-serif;font-size:17px" fill="#222">-2</text>
<text x="1204.4" y="994.8" style="font-family:'Liberation Sans',sans-serif;font-size:17px" fill="#222">-4</text>
<text x="1204.4" y="1043.5" style="font-family:'Liberation Sans',sans-serif;font-size:17px" fill="#222">-6</text>
<text x="1204.4" y="1092.3" style="font-family:'Liberation Sans',sans-serif;font-size:17px" fill="#222">-8</text>
<text x="1204.4" y="1141" style="font-family:'Liberation Sans',sans-serif;font-size:17px" fill="#222">-10</text>
<path d="M1195.1 696.1h4M1195.1 744.9h4M1195.1 793.6h4M1195.1 842.4h4M1195.1 891.1h4M1195.1 939.8h4M1195.1 988.6h4M1195.1 1037.3h4M1195.1 1086.1h4" stroke="#222" stroke-width="1"/>
<text transform="translate(1248.8,891.1) rotate(-90)" text-anchor="middle" style="font-family:'Liberation Sans',sans-serif;font-size:18px" fill="#333" textLength="44.8" lengthAdjust="spacingAndGlyphs">mm/y</text>
<text x="952.8" y="1222.2" text-anchor="middle" style="font-family:'Liberation Serif',serif;font-weight:bold;font-size:29px" fill="#000" textLength="33.5" lengthAdjust="spacingAndGlyphs">(d)</text>
</svg></body></html>
